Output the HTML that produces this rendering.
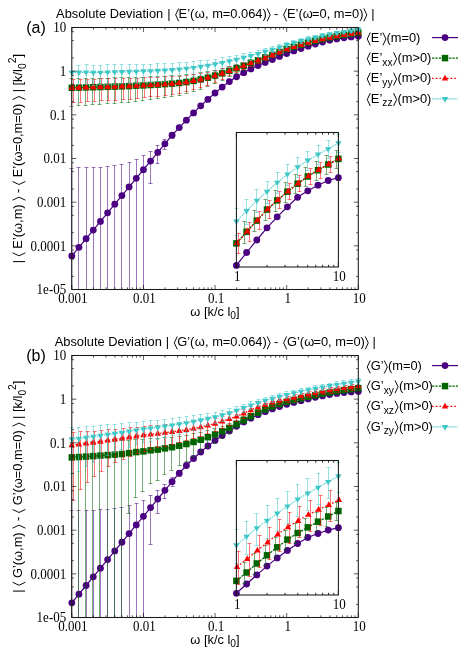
<!DOCTYPE html>
<html><head><meta charset="utf-8"><title>Absolute Deviation</title>
<style>html,body{margin:0;padding:0;background:#fff;}svg{display:block;will-change:transform;}text{font-family:"Liberation Sans",sans-serif;white-space:pre;}.se text{font-family:"Liberation Serif",serif;}</style></head>
<body>
<svg width="469" height="656" viewBox="0 0 469 656" font-family="Liberation Sans, sans-serif" fill="#000">
<defs><clipPath id="cm"><rect x="67.8" y="23.5" width="294.5" height="266.0"/></clipPath><clipPath id="ci"><rect x="232.4" y="132.5" width="109.99999999999997" height="138.5"/></clipPath></defs>
<rect width="469" height="656" fill="#fff"/>
<g><g clip-path="url(#cm)"><path d="M71.50 168.50V289.50M69.50 168.50H73.50M78.50 167.50V289.50M76.50 167.50H80.50M86.50 167.50V289.50M84.50 167.50H88.50M93.50 167.50V289.50M91.50 167.50H95.50M100.50 167.50V289.50M98.50 167.50H102.50M107.50 166.50V289.50M105.50 166.50H109.50M114.50 165.50V289.50M112.50 165.50H116.50M121.50 164.50V289.50M119.50 164.50H123.50M129.50 162.50V289.50M127.50 162.50H131.50M136.50 159.50V289.50M134.50 159.50H138.50M143.50 155.50V289.50M141.50 155.50H145.50M150.50 151.50V183.50M148.50 151.50H152.50M148.50 183.50H152.50M157.50 145.50V163.50M155.50 145.50H159.50M155.50 163.50H159.50M164.50 139.50V149.50M162.50 139.50H166.50M162.50 149.50H166.50M172.50 132.50V138.50M170.50 132.50H174.50M170.50 138.50H174.50M179.50 125.50V129.50M177.50 125.50H181.50M177.50 129.50H181.50M186.50 118.50V121.50M184.50 118.50H188.50M184.50 121.50H188.50M193.50 111.50V113.50M191.50 111.50H195.50M191.50 113.50H195.50M200.50 105.50V106.50M198.50 105.50H202.50M198.50 106.50H202.50M207.50 98.50V99.50M205.50 98.50H209.50M205.50 99.50H209.50M215.50 92.50V93.50M213.50 92.50H217.50M213.50 93.50H217.50M222.50 86.50V87.50M220.50 86.50H224.50M220.50 87.50H224.50M229.50 81.50V81.50M227.50 81.50H231.50M227.50 81.50H231.50M236.50 76.50V76.50M234.50 76.50H238.50M234.50 76.50H238.50M243.50 72.50V72.50M241.50 72.50H245.50M241.50 72.50H245.50M250.50 68.50V69.50M248.50 68.50H252.50M248.50 69.50H252.50M258.50 65.50V65.50M256.50 65.50H260.50M256.50 65.50H260.50M265.50 62.50V62.50M263.50 62.50H267.50M263.50 62.50H267.50M272.50 59.50V59.50M270.50 59.50H274.50M270.50 59.50H274.50M279.50 56.50V56.50M277.50 56.50H281.50M277.50 56.50H281.50M286.50 53.50V53.50M284.50 53.50H288.50M284.50 53.50H288.50M293.50 50.50V50.50M291.50 50.50H295.50M291.50 50.50H295.50M301.50 48.50V48.50M299.50 48.50H303.50M299.50 48.50H303.50M308.50 46.50V46.50M306.50 46.50H310.50M306.50 46.50H310.50M315.50 43.50V44.50M313.50 43.50H317.50M313.50 44.50H317.50M322.50 41.50V42.50M320.50 41.50H324.50M320.50 42.50H324.50M329.50 40.50V40.50M327.50 40.50H331.50M327.50 40.50H331.50M336.50 38.50V38.50M334.50 38.50H338.50M334.50 38.50H338.50M343.50 37.50V37.50M341.50 37.50H345.50M341.50 37.50H345.50M351.50 36.50V36.50M349.50 36.50H353.50M349.50 36.50H353.50M358.50 36.50V36.50M356.50 36.50H360.50M356.50 36.50H360.50" stroke="#4b0082" stroke-width="0.9" stroke-opacity="0.6" fill="none"/><polyline points="71.80,255.90 78.96,247.28 86.12,238.66 93.29,230.04 100.45,221.42 107.61,212.80 114.78,204.18 121.94,195.56 129.10,186.94 136.26,178.32 143.43,169.70 150.59,161.08 157.75,152.46 164.91,143.84 172.07,135.22 179.24,127.60 186.40,120.20 193.56,112.90 200.73,105.80 207.89,99.40 215.05,93.00 222.21,87.10 229.38,81.60 236.54,76.80 243.70,72.70 250.86,68.90 258.02,65.50 265.19,62.40 272.35,59.50 279.51,56.40 286.68,53.48 293.84,50.96 301.00,48.51 308.16,46.13 315.32,43.98 322.49,42.02 329.65,40.17 336.81,38.90 343.98,37.80 351.14,36.88 358.30,36.33" fill="none" stroke="#4b0082" stroke-width="1.2"/><circle cx="71.80" cy="255.90" r="3.4" fill="#4b0082"/><circle cx="78.96" cy="247.28" r="3.4" fill="#4b0082"/><circle cx="86.12" cy="238.66" r="3.4" fill="#4b0082"/><circle cx="93.29" cy="230.04" r="3.4" fill="#4b0082"/><circle cx="100.45" cy="221.42" r="3.4" fill="#4b0082"/><circle cx="107.61" cy="212.80" r="3.4" fill="#4b0082"/><circle cx="114.78" cy="204.18" r="3.4" fill="#4b0082"/><circle cx="121.94" cy="195.56" r="3.4" fill="#4b0082"/><circle cx="129.10" cy="186.94" r="3.4" fill="#4b0082"/><circle cx="136.26" cy="178.32" r="3.4" fill="#4b0082"/><circle cx="143.43" cy="169.70" r="3.4" fill="#4b0082"/><circle cx="150.59" cy="161.08" r="3.4" fill="#4b0082"/><circle cx="157.75" cy="152.46" r="3.4" fill="#4b0082"/><circle cx="164.91" cy="143.84" r="3.4" fill="#4b0082"/><circle cx="172.07" cy="135.22" r="3.4" fill="#4b0082"/><circle cx="179.24" cy="127.60" r="3.4" fill="#4b0082"/><circle cx="186.40" cy="120.20" r="3.4" fill="#4b0082"/><circle cx="193.56" cy="112.90" r="3.4" fill="#4b0082"/><circle cx="200.73" cy="105.80" r="3.4" fill="#4b0082"/><circle cx="207.89" cy="99.40" r="3.4" fill="#4b0082"/><circle cx="215.05" cy="93.00" r="3.4" fill="#4b0082"/><circle cx="222.21" cy="87.10" r="3.4" fill="#4b0082"/><circle cx="229.38" cy="81.60" r="3.4" fill="#4b0082"/><circle cx="236.54" cy="76.80" r="3.4" fill="#4b0082"/><circle cx="243.70" cy="72.70" r="3.4" fill="#4b0082"/><circle cx="250.86" cy="68.90" r="3.4" fill="#4b0082"/><circle cx="258.02" cy="65.50" r="3.4" fill="#4b0082"/><circle cx="265.19" cy="62.40" r="3.4" fill="#4b0082"/><circle cx="272.35" cy="59.50" r="3.4" fill="#4b0082"/><circle cx="279.51" cy="56.40" r="3.4" fill="#4b0082"/><circle cx="286.68" cy="53.48" r="3.4" fill="#4b0082"/><circle cx="293.84" cy="50.96" r="3.4" fill="#4b0082"/><circle cx="301.00" cy="48.51" r="3.4" fill="#4b0082"/><circle cx="308.16" cy="46.13" r="3.4" fill="#4b0082"/><circle cx="315.32" cy="43.98" r="3.4" fill="#4b0082"/><circle cx="322.49" cy="42.02" r="3.4" fill="#4b0082"/><circle cx="329.65" cy="40.17" r="3.4" fill="#4b0082"/><circle cx="336.81" cy="38.90" r="3.4" fill="#4b0082"/><circle cx="343.98" cy="37.80" r="3.4" fill="#4b0082"/><circle cx="351.14" cy="36.88" r="3.4" fill="#4b0082"/><circle cx="358.30" cy="36.33" r="3.4" fill="#4b0082"/><path d="M71.50 78.50V106.50M69.50 78.50H73.50M69.50 106.50H73.50M78.50 78.50V105.50M76.50 78.50H80.50M76.50 105.50H80.50M85.50 78.50V105.50M83.50 78.50H87.50M83.50 105.50H87.50M92.50 78.50V104.50M90.50 78.50H94.50M90.50 104.50H94.50M99.50 78.50V104.50M97.50 78.50H101.50M97.50 104.50H101.50M107.50 78.50V103.50M105.50 78.50H109.50M105.50 103.50H109.50M114.50 77.50V103.50M112.50 77.50H116.50M112.50 103.50H116.50M121.50 77.50V102.50M119.50 77.50H123.50M119.50 102.50H123.50M128.50 77.50V102.50M126.50 77.50H130.50M126.50 102.50H130.50M135.50 77.50V101.50M133.50 77.50H137.50M133.50 101.50H137.50M142.50 77.50V100.50M140.50 77.50H144.50M140.50 100.50H144.50M150.50 76.50V99.50M148.50 76.50H152.50M148.50 99.50H152.50M157.50 76.50V98.50M155.50 76.50H159.50M155.50 98.50H159.50M164.50 76.50V97.50M162.50 76.50H166.50M162.50 97.50H166.50M171.50 75.50V96.50M169.50 75.50H173.50M169.50 96.50H173.50M179.50 75.50V95.50M177.50 75.50H181.50M177.50 95.50H181.50M186.50 74.50V93.50M184.50 74.50H188.50M184.50 93.50H188.50M193.50 74.50V91.50M191.50 74.50H195.50M191.50 91.50H195.50M200.50 72.50V89.50M198.50 72.50H202.50M198.50 89.50H202.50M207.50 71.50V86.50M205.50 71.50H209.50M205.50 86.50H209.50M214.50 70.50V83.50M212.50 70.50H216.50M212.50 83.50H216.50M222.50 68.50V80.50M220.50 68.50H224.50M220.50 80.50H224.50M229.50 66.50V76.50M227.50 66.50H231.50M227.50 76.50H231.50M236.50 64.50V73.50M234.50 64.50H238.50M234.50 73.50H238.50M243.50 62.50V70.50M241.50 62.50H245.50M241.50 70.50H245.50M250.50 59.50V66.50M248.50 59.50H252.50M248.50 66.50H252.50M257.50 57.50V63.50M255.50 57.50H259.50M255.50 63.50H259.50M264.50 54.50V60.50M262.50 54.50H266.50M262.50 60.50H266.50M272.50 52.50V57.50M270.50 52.50H274.50M270.50 57.50H274.50M279.50 49.50V54.50M277.50 49.50H281.50M277.50 54.50H281.50M285.50 47.50V51.50M283.50 47.50H287.50M283.50 51.50H287.50M292.50 44.50V49.50M290.50 44.50H294.50M290.50 49.50H294.50M299.50 42.50V46.50M297.50 42.50H301.50M297.50 46.50H301.50M306.50 40.50V44.50M304.50 40.50H308.50M304.50 44.50H308.50M314.50 38.50V42.50M312.50 38.50H316.50M312.50 42.50H316.50M321.50 37.50V41.50M319.50 37.50H323.50M319.50 41.50H323.50M328.50 35.50V39.50M326.50 35.50H330.50M326.50 39.50H330.50M335.50 34.50V38.50M333.50 34.50H337.50M333.50 38.50H337.50M342.50 33.50V36.50M340.50 33.50H344.50M340.50 36.50H344.50M349.50 32.50V35.50M347.50 32.50H351.50M347.50 35.50H351.50M357.50 30.50V34.50M355.50 30.50H359.50M355.50 34.50H359.50" stroke="#006400" stroke-width="0.9" stroke-opacity="0.6" fill="none"/><polyline points="71.80,87.80 78.96,87.60 86.12,87.40 93.29,87.20 100.45,87.00 107.61,86.80 114.78,86.60 121.94,86.40 129.10,86.10 136.26,85.70 143.43,85.40 150.59,85.00 157.75,84.60 164.91,84.10 172.07,83.60 179.24,83.00 186.40,82.10 193.56,80.90 200.73,79.40 207.89,77.70 215.05,75.60 222.21,73.40 229.38,70.80 236.54,68.30 243.70,65.70 250.86,63.00 258.02,60.30 265.19,57.60 272.35,54.80 279.51,52.00 286.68,49.18 293.84,46.91 301.00,44.72 308.16,42.57 315.32,40.77 322.49,39.07 329.65,37.51 336.81,36.10 343.98,34.87 351.14,33.75 358.30,32.66" fill="none" stroke="#006400" stroke-width="1.3" stroke-dasharray="2.3 1.1"/><rect x="68.55" y="84.55" width="6.5" height="6.5" fill="#006400"/><rect x="75.71" y="84.35" width="6.5" height="6.5" fill="#006400"/><rect x="82.88" y="84.15" width="6.5" height="6.5" fill="#006400"/><rect x="90.04" y="83.95" width="6.5" height="6.5" fill="#006400"/><rect x="97.20" y="83.75" width="6.5" height="6.5" fill="#006400"/><rect x="104.36" y="83.55" width="6.5" height="6.5" fill="#006400"/><rect x="111.53" y="83.35" width="6.5" height="6.5" fill="#006400"/><rect x="118.69" y="83.15" width="6.5" height="6.5" fill="#006400"/><rect x="125.85" y="82.85" width="6.5" height="6.5" fill="#006400"/><rect x="133.01" y="82.45" width="6.5" height="6.5" fill="#006400"/><rect x="140.18" y="82.15" width="6.5" height="6.5" fill="#006400"/><rect x="147.34" y="81.75" width="6.5" height="6.5" fill="#006400"/><rect x="154.50" y="81.35" width="6.5" height="6.5" fill="#006400"/><rect x="161.66" y="80.85" width="6.5" height="6.5" fill="#006400"/><rect x="168.82" y="80.35" width="6.5" height="6.5" fill="#006400"/><rect x="175.99" y="79.75" width="6.5" height="6.5" fill="#006400"/><rect x="183.15" y="78.85" width="6.5" height="6.5" fill="#006400"/><rect x="190.31" y="77.65" width="6.5" height="6.5" fill="#006400"/><rect x="197.48" y="76.15" width="6.5" height="6.5" fill="#006400"/><rect x="204.64" y="74.45" width="6.5" height="6.5" fill="#006400"/><rect x="211.80" y="72.35" width="6.5" height="6.5" fill="#006400"/><rect x="218.96" y="70.15" width="6.5" height="6.5" fill="#006400"/><rect x="226.12" y="67.55" width="6.5" height="6.5" fill="#006400"/><rect x="233.29" y="65.05" width="6.5" height="6.5" fill="#006400"/><rect x="240.45" y="62.45" width="6.5" height="6.5" fill="#006400"/><rect x="247.61" y="59.75" width="6.5" height="6.5" fill="#006400"/><rect x="254.77" y="57.05" width="6.5" height="6.5" fill="#006400"/><rect x="261.94" y="54.35" width="6.5" height="6.5" fill="#006400"/><rect x="269.10" y="51.55" width="6.5" height="6.5" fill="#006400"/><rect x="276.26" y="48.75" width="6.5" height="6.5" fill="#006400"/><rect x="283.43" y="45.93" width="6.5" height="6.5" fill="#006400"/><rect x="290.59" y="43.66" width="6.5" height="6.5" fill="#006400"/><rect x="297.75" y="41.47" width="6.5" height="6.5" fill="#006400"/><rect x="304.91" y="39.32" width="6.5" height="6.5" fill="#006400"/><rect x="312.07" y="37.52" width="6.5" height="6.5" fill="#006400"/><rect x="319.24" y="35.82" width="6.5" height="6.5" fill="#006400"/><rect x="326.40" y="34.26" width="6.5" height="6.5" fill="#006400"/><rect x="333.56" y="32.85" width="6.5" height="6.5" fill="#006400"/><rect x="340.73" y="31.62" width="6.5" height="6.5" fill="#006400"/><rect x="347.89" y="30.50" width="6.5" height="6.5" fill="#006400"/><rect x="355.05" y="29.41" width="6.5" height="6.5" fill="#006400"/><path d="M73.50 79.50V102.50M71.50 79.50H75.50M71.50 102.50H75.50M80.50 79.50V102.50M78.50 79.50H82.50M78.50 102.50H82.50M87.50 79.50V101.50M85.50 79.50H89.50M85.50 101.50H89.50M94.50 79.50V101.50M92.50 79.50H96.50M92.50 101.50H96.50M101.50 78.50V100.50M99.50 78.50H103.50M99.50 100.50H103.50M108.50 78.50V100.50M106.50 78.50H110.50M106.50 100.50H110.50M115.50 78.50V100.50M113.50 78.50H117.50M113.50 100.50H117.50M123.50 78.50V99.50M121.50 78.50H125.50M121.50 99.50H125.50M130.50 78.50V99.50M128.50 78.50H132.50M128.50 99.50H132.50M137.50 78.50V98.50M135.50 78.50H139.50M135.50 98.50H139.50M144.50 77.50V97.50M142.50 77.50H146.50M142.50 97.50H146.50M150.50 77.50V96.50M148.50 77.50H152.50M148.50 96.50H152.50M157.50 77.50V96.50M155.50 77.50H159.50M155.50 96.50H159.50M165.50 76.50V95.50M163.50 76.50H167.50M163.50 95.50H167.50M172.50 76.50V94.50M170.50 76.50H174.50M170.50 94.50H174.50M179.50 76.50V93.50M177.50 76.50H181.50M177.50 93.50H181.50M186.50 75.50V91.50M184.50 75.50H188.50M184.50 91.50H188.50M193.50 74.50V89.50M191.50 74.50H195.50M191.50 89.50H195.50M200.50 73.50V87.50M198.50 73.50H202.50M198.50 87.50H202.50M207.50 72.50V85.50M205.50 72.50H209.50M205.50 85.50H209.50M215.50 70.50V82.50M213.50 70.50H217.50M213.50 82.50H217.50M222.50 68.50V79.50M220.50 68.50H224.50M220.50 79.50H224.50M229.50 66.50V75.50M227.50 66.50H231.50M227.50 75.50H231.50M236.50 64.50V72.50M234.50 64.50H238.50M234.50 72.50H238.50M243.50 62.50V69.50M241.50 62.50H245.50M241.50 69.50H245.50M250.50 60.50V66.50M248.50 60.50H252.50M248.50 66.50H252.50M258.50 57.50V63.50M256.50 57.50H260.50M256.50 63.50H260.50M265.50 55.50V60.50M263.50 55.50H267.50M263.50 60.50H267.50M272.50 52.50V57.50M270.50 52.50H274.50M270.50 57.50H274.50M279.50 49.50V54.50M277.50 49.50H281.50M277.50 54.50H281.50M288.50 47.50V51.50M286.50 47.50H290.50M286.50 51.50H290.50M295.50 45.50V48.50M293.50 45.50H297.50M293.50 48.50H297.50M302.50 42.50V46.50M300.50 42.50H304.50M300.50 46.50H304.50M309.50 40.50V44.50M307.50 40.50H311.50M307.50 44.50H311.50M316.50 39.50V42.50M314.50 39.50H318.50M314.50 42.50H318.50M323.50 37.50V40.50M321.50 37.50H325.50M321.50 40.50H325.50M331.50 35.50V39.50M329.50 35.50H333.50M329.50 39.50H333.50M338.50 34.50V37.50M336.50 34.50H340.50M336.50 37.50H340.50M345.50 33.50V36.50M343.50 33.50H347.50M343.50 36.50H347.50M352.50 32.50V35.50M350.50 32.50H354.50M350.50 35.50H354.50" stroke="#ff0000" stroke-width="0.9" stroke-opacity="0.6" fill="none"/><polyline points="71.80,87.71 78.96,87.51 86.12,87.31 93.29,87.11 100.45,86.91 107.61,86.71 114.78,86.51 121.94,86.31 129.10,86.01 136.26,85.61 143.43,85.31 150.59,84.91 157.75,84.51 164.91,84.01 172.07,83.51 179.24,82.91 186.40,82.01 193.56,80.81 200.73,79.31 207.89,77.61 215.05,75.51 222.21,73.31 229.38,70.71 236.54,68.21 243.70,65.61 250.86,62.91 258.02,60.21 265.19,57.51 272.35,54.71 279.51,51.91 286.68,49.08 293.84,46.82 301.00,44.63 308.16,42.48 315.32,40.68 322.49,38.98 329.65,37.41 336.81,36.01 343.98,34.77 351.14,33.66 358.30,32.57" fill="none" stroke="#ff0000" stroke-width="1.2" stroke-dasharray="1.7 2.0"/><path d="M71.80 84.01L75.00 89.91L68.60 89.91Z" fill="#ff0000"/><path d="M78.96 83.81L82.16 89.71L75.76 89.71Z" fill="#ff0000"/><path d="M86.12 83.61L89.33 89.51L82.92 89.51Z" fill="#ff0000"/><path d="M93.29 83.41L96.49 89.31L90.09 89.31Z" fill="#ff0000"/><path d="M100.45 83.21L103.65 89.11L97.25 89.11Z" fill="#ff0000"/><path d="M107.61 83.01L110.81 88.91L104.41 88.91Z" fill="#ff0000"/><path d="M114.78 82.81L117.98 88.71L111.58 88.71Z" fill="#ff0000"/><path d="M121.94 82.61L125.14 88.51L118.74 88.51Z" fill="#ff0000"/><path d="M129.10 82.31L132.30 88.21L125.90 88.21Z" fill="#ff0000"/><path d="M136.26 81.91L139.46 87.81L133.06 87.81Z" fill="#ff0000"/><path d="M143.43 81.61L146.62 87.51L140.23 87.51Z" fill="#ff0000"/><path d="M150.59 81.21L153.79 87.11L147.39 87.11Z" fill="#ff0000"/><path d="M157.75 80.81L160.95 86.71L154.55 86.71Z" fill="#ff0000"/><path d="M164.91 80.31L168.11 86.21L161.71 86.21Z" fill="#ff0000"/><path d="M172.07 79.81L175.27 85.71L168.88 85.71Z" fill="#ff0000"/><path d="M179.24 79.21L182.44 85.11L176.04 85.11Z" fill="#ff0000"/><path d="M186.40 78.31L189.60 84.21L183.20 84.21Z" fill="#ff0000"/><path d="M193.56 77.11L196.76 83.01L190.36 83.01Z" fill="#ff0000"/><path d="M200.73 75.61L203.93 81.51L197.53 81.51Z" fill="#ff0000"/><path d="M207.89 73.91L211.09 79.81L204.69 79.81Z" fill="#ff0000"/><path d="M215.05 71.81L218.25 77.71L211.85 77.71Z" fill="#ff0000"/><path d="M222.21 69.61L225.41 75.51L219.01 75.51Z" fill="#ff0000"/><path d="M229.38 67.01L232.57 72.91L226.18 72.91Z" fill="#ff0000"/><path d="M236.54 64.51L239.74 70.41L233.34 70.41Z" fill="#ff0000"/><path d="M243.70 61.91L246.90 67.81L240.50 67.81Z" fill="#ff0000"/><path d="M250.86 59.21L254.06 65.11L247.66 65.11Z" fill="#ff0000"/><path d="M258.02 56.51L261.22 62.41L254.82 62.41Z" fill="#ff0000"/><path d="M265.19 53.81L268.39 59.71L261.99 59.71Z" fill="#ff0000"/><path d="M272.35 51.01L275.55 56.91L269.15 56.91Z" fill="#ff0000"/><path d="M279.51 48.21L282.71 54.11L276.31 54.11Z" fill="#ff0000"/><path d="M286.68 45.38L289.88 51.28L283.48 51.28Z" fill="#ff0000"/><path d="M293.84 43.12L297.04 49.02L290.64 49.02Z" fill="#ff0000"/><path d="M301.00 40.93L304.20 46.83L297.80 46.83Z" fill="#ff0000"/><path d="M308.16 38.78L311.36 44.68L304.96 44.68Z" fill="#ff0000"/><path d="M315.32 36.98L318.52 42.88L312.12 42.88Z" fill="#ff0000"/><path d="M322.49 35.28L325.69 41.18L319.29 41.18Z" fill="#ff0000"/><path d="M329.65 33.71L332.85 39.61L326.45 39.61Z" fill="#ff0000"/><path d="M336.81 32.31L340.01 38.21L333.61 38.21Z" fill="#ff0000"/><path d="M343.98 31.07L347.18 36.97L340.78 36.97Z" fill="#ff0000"/><path d="M351.14 29.96L354.34 35.86L347.94 35.86Z" fill="#ff0000"/><path d="M358.30 28.87L361.50 34.77L355.10 34.77Z" fill="#ff0000"/><path d="M78.50 65.50V84.50M76.50 65.50H80.50M76.50 84.50H80.50M86.50 64.50V84.50M84.50 64.50H88.50M84.50 84.50H88.50M93.50 65.50V85.50M91.50 65.50H95.50M91.50 85.50H95.50M100.50 65.50V84.50M98.50 65.50H102.50M98.50 84.50H102.50M107.50 64.50V84.50M105.50 64.50H109.50M105.50 84.50H109.50M114.50 64.50V84.50M112.50 64.50H116.50M112.50 84.50H116.50M121.50 64.50V83.50M119.50 64.50H123.50M119.50 83.50H123.50M129.50 64.50V83.50M127.50 64.50H131.50M127.50 83.50H131.50M136.50 64.50V83.50M134.50 64.50H138.50M134.50 83.50H138.50M143.50 64.50V82.50M141.50 64.50H145.50M141.50 82.50H145.50M150.50 64.50V82.50M148.50 64.50H152.50M148.50 82.50H152.50M157.50 63.50V81.50M155.50 63.50H159.50M155.50 81.50H159.50M164.50 63.50V81.50M162.50 63.50H166.50M162.50 81.50H166.50M172.50 63.50V80.50M170.50 63.50H174.50M170.50 80.50H174.50M179.50 62.50V79.50M177.50 62.50H181.50M177.50 79.50H181.50M186.50 62.50V78.50M184.50 62.50H188.50M184.50 78.50H188.50M193.50 61.50V76.50M191.50 61.50H195.50M191.50 76.50H195.50M200.50 60.50V75.50M198.50 60.50H202.50M198.50 75.50H202.50M207.50 60.50V73.50M205.50 60.50H209.50M205.50 73.50H209.50M215.50 59.50V71.50M213.50 59.50H217.50M213.50 71.50H217.50M222.50 57.50V69.50M220.50 57.50H224.50M220.50 69.50H224.50M229.50 56.50V67.50M227.50 56.50H231.50M227.50 67.50H231.50M236.50 55.50V64.50M234.50 55.50H238.50M234.50 64.50H238.50M243.50 53.50V62.50M241.50 53.50H245.50M241.50 62.50H245.50M250.50 52.50V60.50M248.50 52.50H252.50M248.50 60.50H252.50M258.50 50.50V57.50M256.50 50.50H260.50M256.50 57.50H260.50M265.50 48.50V55.50M263.50 48.50H267.50M263.50 55.50H267.50M272.50 46.50V52.50M270.50 46.50H274.50M270.50 52.50H274.50M279.50 44.50V50.50M277.50 44.50H281.50M277.50 50.50H281.50M286.50 42.50V47.50M284.50 42.50H288.50M284.50 47.50H288.50M293.50 40.50V45.50M291.50 40.50H295.50M291.50 45.50H295.50M301.50 38.50V43.50M299.50 38.50H303.50M299.50 43.50H303.50M308.50 36.50V41.50M306.50 36.50H310.50M306.50 41.50H310.50M315.50 35.50V39.50M313.50 35.50H317.50M313.50 39.50H317.50M322.50 33.50V37.50M320.50 33.50H324.50M320.50 37.50H324.50M329.50 32.50V36.50M327.50 32.50H331.50M327.50 36.50H331.50M336.50 31.50V34.50M334.50 31.50H338.50M334.50 34.50H338.50M343.50 30.50V33.50M341.50 30.50H345.50M341.50 33.50H345.50M351.50 28.50V32.50M349.50 28.50H353.50M349.50 32.50H353.50M358.50 27.50V31.50M356.50 27.50H360.50M356.50 31.50H360.50" stroke="#40c8c8" stroke-width="0.9" stroke-opacity="0.6" fill="none"/><polyline points="71.80,72.50 78.96,72.40 86.12,72.30 93.29,72.70 100.45,72.50 107.61,72.30 114.78,72.10 121.94,71.90 129.10,71.70 136.26,71.50 143.43,71.20 150.59,71.00 157.75,70.70 164.91,70.40 172.07,69.90 179.24,69.30 186.40,68.60 193.56,67.80 200.73,66.70 207.89,65.50 215.05,64.20 222.21,62.80 229.38,61.20 236.54,59.50 243.70,57.70 250.86,55.80 258.02,53.78 265.19,51.66 272.35,49.54 279.51,47.32 286.68,44.86 293.84,42.82 301.00,40.81 308.16,39.03 315.32,37.29 322.49,35.67 329.65,34.24 336.81,32.95 343.98,31.78 351.14,30.73 358.30,29.57" fill="none" stroke="#40c8c8" stroke-width="1.1" stroke-dasharray="1.7 0.8" stroke-opacity="0.8"/><path d="M71.80 76.00L75.05 70.65L68.55 70.65Z" fill="#40c8c8"/><path d="M78.96 75.90L82.21 70.55L75.71 70.55Z" fill="#40c8c8"/><path d="M86.12 75.80L89.38 70.45L82.88 70.45Z" fill="#40c8c8"/><path d="M93.29 76.20L96.54 70.85L90.04 70.85Z" fill="#40c8c8"/><path d="M100.45 76.00L103.70 70.65L97.20 70.65Z" fill="#40c8c8"/><path d="M107.61 75.80L110.86 70.45L104.36 70.45Z" fill="#40c8c8"/><path d="M114.78 75.60L118.03 70.25L111.53 70.25Z" fill="#40c8c8"/><path d="M121.94 75.40L125.19 70.05L118.69 70.05Z" fill="#40c8c8"/><path d="M129.10 75.20L132.35 69.85L125.85 69.85Z" fill="#40c8c8"/><path d="M136.26 75.00L139.51 69.65L133.01 69.65Z" fill="#40c8c8"/><path d="M143.43 74.70L146.68 69.35L140.18 69.35Z" fill="#40c8c8"/><path d="M150.59 74.50L153.84 69.15L147.34 69.15Z" fill="#40c8c8"/><path d="M157.75 74.20L161.00 68.85L154.50 68.85Z" fill="#40c8c8"/><path d="M164.91 73.90L168.16 68.55L161.66 68.55Z" fill="#40c8c8"/><path d="M172.07 73.40L175.32 68.05L168.82 68.05Z" fill="#40c8c8"/><path d="M179.24 72.80L182.49 67.45L175.99 67.45Z" fill="#40c8c8"/><path d="M186.40 72.10L189.65 66.75L183.15 66.75Z" fill="#40c8c8"/><path d="M193.56 71.30L196.81 65.95L190.31 65.95Z" fill="#40c8c8"/><path d="M200.73 70.20L203.98 64.85L197.48 64.85Z" fill="#40c8c8"/><path d="M207.89 69.00L211.14 63.65L204.64 63.65Z" fill="#40c8c8"/><path d="M215.05 67.70L218.30 62.35L211.80 62.35Z" fill="#40c8c8"/><path d="M222.21 66.30L225.46 60.95L218.96 60.95Z" fill="#40c8c8"/><path d="M229.38 64.70L232.62 59.35L226.12 59.35Z" fill="#40c8c8"/><path d="M236.54 63.00L239.79 57.65L233.29 57.65Z" fill="#40c8c8"/><path d="M243.70 61.20L246.95 55.85L240.45 55.85Z" fill="#40c8c8"/><path d="M250.86 59.30L254.11 53.95L247.61 53.95Z" fill="#40c8c8"/><path d="M258.02 57.28L261.27 51.93L254.77 51.93Z" fill="#40c8c8"/><path d="M265.19 55.16L268.44 49.81L261.94 49.81Z" fill="#40c8c8"/><path d="M272.35 53.04L275.60 47.69L269.10 47.69Z" fill="#40c8c8"/><path d="M279.51 50.82L282.76 45.47L276.26 45.47Z" fill="#40c8c8"/><path d="M286.68 48.36L289.93 43.01L283.43 43.01Z" fill="#40c8c8"/><path d="M293.84 46.32L297.09 40.97L290.59 40.97Z" fill="#40c8c8"/><path d="M301.00 44.31L304.25 38.96L297.75 38.96Z" fill="#40c8c8"/><path d="M308.16 42.53L311.41 37.18L304.91 37.18Z" fill="#40c8c8"/><path d="M315.32 40.79L318.57 35.44L312.07 35.44Z" fill="#40c8c8"/><path d="M322.49 39.17L325.74 33.82L319.24 33.82Z" fill="#40c8c8"/><path d="M329.65 37.74L332.90 32.39L326.40 32.39Z" fill="#40c8c8"/><path d="M336.81 36.45L340.06 31.10L333.56 31.10Z" fill="#40c8c8"/><path d="M343.98 35.28L347.23 29.93L340.73 29.93Z" fill="#40c8c8"/><path d="M351.14 34.23L354.39 28.88L347.89 28.88Z" fill="#40c8c8"/><path d="M358.30 33.07L361.55 27.72L355.05 27.72Z" fill="#40c8c8"/></g><path d="M71.80 289.5v-4.5M71.80 27.5v4.5M93.36 289.5v-2.2M93.36 27.5v2.2M105.97 289.5v-2.2M105.97 27.5v2.2M114.92 289.5v-2.2M114.92 27.5v2.2M121.86 289.5v-2.2M121.86 27.5v2.2M127.54 289.5v-2.2M127.54 27.5v2.2M132.33 289.5v-2.2M132.33 27.5v2.2M136.48 289.5v-2.2M136.48 27.5v2.2M140.15 289.5v-2.2M140.15 27.5v2.2M143.43 289.5v-4.5M143.43 27.5v4.5M164.99 289.5v-2.2M164.99 27.5v2.2M177.60 289.5v-2.2M177.60 27.5v2.2M186.55 289.5v-2.2M186.55 27.5v2.2M193.49 289.5v-2.2M193.49 27.5v2.2M199.16 289.5v-2.2M199.16 27.5v2.2M203.96 289.5v-2.2M203.96 27.5v2.2M208.11 289.5v-2.2M208.11 27.5v2.2M211.77 289.5v-2.2M211.77 27.5v2.2M215.05 289.5v-4.5M215.05 27.5v4.5M236.61 289.5v-2.2M236.61 27.5v2.2M249.22 289.5v-2.2M249.22 27.5v2.2M258.17 289.5v-2.2M258.17 27.5v2.2M265.11 289.5v-2.2M265.11 27.5v2.2M270.79 289.5v-2.2M270.79 27.5v2.2M275.58 289.5v-2.2M275.58 27.5v2.2M279.73 289.5v-2.2M279.73 27.5v2.2M283.40 289.5v-2.2M283.40 27.5v2.2M286.68 289.5v-4.5M286.68 27.5v4.5M308.24 289.5v-2.2M308.24 27.5v2.2M320.85 289.5v-2.2M320.85 27.5v2.2M329.80 289.5v-2.2M329.80 27.5v2.2M336.74 289.5v-2.2M336.74 27.5v2.2M342.41 289.5v-2.2M342.41 27.5v2.2M347.21 289.5v-2.2M347.21 27.5v2.2M351.36 289.5v-2.2M351.36 27.5v2.2M355.02 289.5v-2.2M355.02 27.5v2.2M358.30 289.5v-4.5M358.30 27.5v4.5M71.8 27.50h4.5M358.3 27.50h-4.5M71.8 58.02h2.2M358.3 58.02h-2.2M71.8 40.64h2.2M358.3 40.64h-2.2M71.8 31.73h2.2M358.3 31.73h-2.2M71.8 71.17h4.5M358.3 71.17h-4.5M71.8 101.69h2.2M358.3 101.69h-2.2M71.8 84.31h2.2M358.3 84.31h-2.2M71.8 75.40h2.2M358.3 75.40h-2.2M71.8 114.83h4.5M358.3 114.83h-4.5M71.8 145.36h2.2M358.3 145.36h-2.2M71.8 127.98h2.2M358.3 127.98h-2.2M71.8 119.07h2.2M358.3 119.07h-2.2M71.8 158.50h4.5M358.3 158.50h-4.5M71.8 189.02h2.2M358.3 189.02h-2.2M71.8 171.64h2.2M358.3 171.64h-2.2M71.8 162.73h2.2M358.3 162.73h-2.2M71.8 202.17h4.5M358.3 202.17h-4.5M71.8 232.69h2.2M358.3 232.69h-2.2M71.8 215.31h2.2M358.3 215.31h-2.2M71.8 206.40h2.2M358.3 206.40h-2.2M71.8 245.83h4.5M358.3 245.83h-4.5M71.8 276.36h2.2M358.3 276.36h-2.2M71.8 258.98h2.2M358.3 258.98h-2.2M71.8 250.07h2.2M358.3 250.07h-2.2M71.8 289.50h4.5M358.3 289.50h-4.5" stroke="#000" stroke-width="0.65" fill="none"/><rect x="71.8" y="27.5" width="286.5" height="262.0" fill="none" stroke="#1a1a1a" stroke-width="1.05"/><rect x="236.4" y="132.5" width="101.99999999999997" height="134.5" fill="#fff" stroke="none"/><g clip-path="url(#ci)"><polyline points="236.40,265.40 246.60,252.50 256.80,240.00 267.00,227.80 277.20,216.80 287.40,206.80 297.60,197.30 307.80,190.80 318.00,185.20 328.20,180.50 338.40,177.70" fill="none" stroke="#4b0082" stroke-width="1.2"/><circle cx="236.40" cy="265.40" r="3.4" fill="#4b0082"/><circle cx="246.60" cy="252.50" r="3.4" fill="#4b0082"/><circle cx="256.80" cy="240.00" r="3.4" fill="#4b0082"/><circle cx="267.00" cy="227.80" r="3.4" fill="#4b0082"/><circle cx="277.20" cy="216.80" r="3.4" fill="#4b0082"/><circle cx="287.40" cy="206.80" r="3.4" fill="#4b0082"/><circle cx="297.60" cy="197.30" r="3.4" fill="#4b0082"/><circle cx="307.80" cy="190.80" r="3.4" fill="#4b0082"/><circle cx="318.00" cy="185.20" r="3.4" fill="#4b0082"/><circle cx="328.20" cy="180.50" r="3.4" fill="#4b0082"/><circle cx="338.40" cy="177.70" r="3.4" fill="#4b0082"/><path d="M244.50 221.50V243.50M242.50 221.50H246.50M242.50 243.50H246.50M254.50 210.50V231.50M252.50 210.50H256.50M252.50 231.50H256.50M265.50 199.50V220.50M263.50 199.50H267.50M263.50 220.50H267.50M275.50 190.50V211.50M273.50 190.50H277.50M273.50 211.50H277.50M285.50 182.50V202.50M283.50 182.50H287.50M283.50 202.50H287.50M295.50 174.50V193.50M293.50 174.50H297.50M293.50 193.50H297.50M305.50 167.50V186.50M303.50 167.50H307.50M303.50 186.50H307.50M316.50 161.50V180.50M314.50 161.50H318.50M314.50 180.50H318.50M326.50 155.50V174.50M324.50 155.50H328.50M324.50 174.50H328.50M336.50 150.50V168.50M334.50 150.50H338.50M334.50 168.50H338.50" stroke="#006400" stroke-width="0.9" stroke-opacity="0.6" fill="none"/><polyline points="236.40,243.40 246.60,231.80 256.80,220.60 267.00,209.60 277.20,200.40 287.40,191.70 297.60,183.70 307.80,176.50 318.00,170.20 328.20,164.50 338.40,158.90" fill="none" stroke="#006400" stroke-width="1.3" stroke-dasharray="2.3 1.1"/><rect x="233.15" y="240.15" width="6.5" height="6.5" fill="#006400"/><rect x="243.35" y="228.55" width="6.5" height="6.5" fill="#006400"/><rect x="253.55" y="217.35" width="6.5" height="6.5" fill="#006400"/><rect x="263.75" y="206.35" width="6.5" height="6.5" fill="#006400"/><rect x="273.95" y="197.15" width="6.5" height="6.5" fill="#006400"/><rect x="284.15" y="188.45" width="6.5" height="6.5" fill="#006400"/><rect x="294.35" y="180.45" width="6.5" height="6.5" fill="#006400"/><rect x="304.55" y="173.25" width="6.5" height="6.5" fill="#006400"/><rect x="314.75" y="166.95" width="6.5" height="6.5" fill="#006400"/><rect x="324.95" y="161.25" width="6.5" height="6.5" fill="#006400"/><rect x="335.15" y="155.65" width="6.5" height="6.5" fill="#006400"/><path d="M238.50 233.50V253.50M236.50 233.50H240.50M236.50 253.50H240.50M249.50 222.50V241.50M247.50 222.50H251.50M247.50 241.50H251.50M259.50 211.50V229.50M257.50 211.50H261.50M257.50 229.50H261.50M269.50 200.50V218.50M267.50 200.50H271.50M267.50 218.50H271.50M279.50 191.50V208.50M277.50 191.50H281.50M277.50 208.50H281.50M289.50 183.50V199.50M287.50 183.50H291.50M287.50 199.50H291.50M299.50 175.50V191.50M297.50 175.50H301.50M297.50 191.50H301.50M310.50 168.50V184.50M308.50 168.50H312.50M308.50 184.50H312.50M320.50 162.50V178.50M318.50 162.50H322.50M318.50 178.50H322.50M330.50 156.50V172.50M328.50 156.50H332.50M328.50 172.50H332.50" stroke="#ff0000" stroke-width="0.9" stroke-opacity="0.6" fill="none"/><polyline points="237.00,242.92 247.20,231.32 257.40,220.12 267.60,209.12 277.80,199.92 288.00,191.22 298.20,183.22 308.40,176.02 318.60,169.72 328.80,164.02 339.00,158.42" fill="none" stroke="#ff0000" stroke-width="1.2" stroke-dasharray="1.7 2.0"/><path d="M237.00 239.22L240.20 245.12L233.80 245.12Z" fill="#ff0000"/><path d="M247.20 227.62L250.40 233.52L244.00 233.52Z" fill="#ff0000"/><path d="M257.40 216.42L260.60 222.32L254.20 222.32Z" fill="#ff0000"/><path d="M267.60 205.42L270.80 211.32L264.40 211.32Z" fill="#ff0000"/><path d="M277.80 196.22L281.00 202.12L274.60 202.12Z" fill="#ff0000"/><path d="M288.00 187.52L291.20 193.42L284.80 193.42Z" fill="#ff0000"/><path d="M298.20 179.52L301.40 185.42L295.00 185.42Z" fill="#ff0000"/><path d="M308.40 172.32L311.60 178.22L305.20 178.22Z" fill="#ff0000"/><path d="M318.60 166.02L321.80 171.92L315.40 171.92Z" fill="#ff0000"/><path d="M328.80 160.32L332.00 166.22L325.60 166.22Z" fill="#ff0000"/><path d="M339.00 154.72L342.20 160.62L335.80 160.62Z" fill="#ff0000"/><path d="M236.50 208.50V235.50M234.50 208.50H238.50M234.50 235.50H238.50M246.50 199.50V224.50M244.50 199.50H248.50M244.50 224.50H248.50M256.50 189.50V212.50M254.50 189.50H258.50M254.50 212.50H258.50M267.50 181.50V203.50M265.50 181.50H269.50M265.50 203.50H269.50M277.50 172.50V193.50M275.50 172.50H279.50M275.50 193.50H279.50M287.50 164.50V185.50M285.50 164.50H289.50M285.50 185.50H289.50M297.50 157.50V177.50M295.50 157.50H299.50M295.50 177.50H299.50M307.50 151.50V170.50M305.50 151.50H309.50M305.50 170.50H309.50M318.50 145.50V164.50M316.50 145.50H320.50M316.50 164.50H320.50M328.50 140.50V158.50M326.50 140.50H330.50M326.50 158.50H330.50M338.50 134.50V152.50M336.50 134.50H340.50M336.50 152.50H340.50" stroke="#40c8c8" stroke-width="0.9" stroke-opacity="0.6" fill="none"/><polyline points="236.40,221.30 246.60,210.90 256.80,200.60 267.00,191.50 277.20,182.60 287.40,174.30 297.60,167.00 307.80,160.40 318.00,154.40 328.20,149.00 338.40,143.10" fill="none" stroke="#40c8c8" stroke-width="1.1" stroke-dasharray="1.7 0.8" stroke-opacity="0.8"/><path d="M236.40 224.80L239.65 219.45L233.15 219.45Z" fill="#40c8c8"/><path d="M246.60 214.40L249.85 209.05L243.35 209.05Z" fill="#40c8c8"/><path d="M256.80 204.10L260.05 198.75L253.55 198.75Z" fill="#40c8c8"/><path d="M267.00 195.00L270.25 189.65L263.75 189.65Z" fill="#40c8c8"/><path d="M277.20 186.10L280.45 180.75L273.95 180.75Z" fill="#40c8c8"/><path d="M287.40 177.80L290.65 172.45L284.15 172.45Z" fill="#40c8c8"/><path d="M297.60 170.50L300.85 165.15L294.35 165.15Z" fill="#40c8c8"/><path d="M307.80 163.90L311.05 158.55L304.55 158.55Z" fill="#40c8c8"/><path d="M318.00 157.90L321.25 152.55L314.75 152.55Z" fill="#40c8c8"/><path d="M328.20 152.50L331.45 147.15L324.95 147.15Z" fill="#40c8c8"/><path d="M338.40 146.60L341.65 141.25L335.15 141.25Z" fill="#40c8c8"/></g><path d="M236.40 267.0v-4.5M236.40 132.5v4.5M267.11 267.0v-2.2M267.11 132.5v2.2M285.07 267.0v-2.2M285.07 132.5v2.2M297.81 267.0v-2.2M297.81 132.5v2.2M307.69 267.0v-2.2M307.69 132.5v2.2M315.77 267.0v-2.2M315.77 132.5v2.2M322.60 267.0v-2.2M322.60 132.5v2.2M328.52 267.0v-2.2M328.52 132.5v2.2M333.73 267.0v-2.2M333.73 132.5v2.2M338.40 267.0v-4.5M338.40 132.5v4.5" stroke="#000" stroke-width="0.85" fill="none"/><rect x="236.4" y="132.5" width="101.99999999999997" height="134.5" fill="none" stroke="#1a1a1a" stroke-width="1.05"/><g class="se" font-size="13"><text transform="translate(72.80 303.20) scale(1 1.08)" text-anchor="middle">0.001</text><text transform="translate(144.43 303.20) scale(1 1.08)" text-anchor="middle">0.01</text><text transform="translate(216.05 303.20) scale(1 1.08)" text-anchor="middle">0.1</text><text transform="translate(287.68 303.20) scale(1 1.08)" text-anchor="middle">1</text><text transform="translate(359.30 303.20) scale(1 1.08)" text-anchor="middle">10</text><text transform="translate(66.20 32.30) scale(1 1.08)" text-anchor="end">10</text><text transform="translate(66.20 75.97) scale(1 1.08)" text-anchor="end">1</text><text transform="translate(66.20 119.63) scale(1 1.08)" text-anchor="end">0.1</text><text transform="translate(66.20 163.30) scale(1 1.08)" text-anchor="end">0.01</text><text transform="translate(66.20 206.97) scale(1 1.08)" text-anchor="end">0.001</text><text transform="translate(66.20 250.63) scale(1 1.08)" text-anchor="end">0.0001</text><text transform="translate(66.20 294.30) scale(1 1.08)" text-anchor="end">1e-05</text><text transform="translate(237.30 281.20) scale(1 1.08)" text-anchor="middle">1</text><text transform="translate(339.30 281.20) scale(1 1.08)" text-anchor="middle">10</text></g><g font-family="Liberation Sans, sans-serif"><text x="26.2" y="33.1" font-size="16">(a)</text><text x="56.10" y="17.90" font-size="12.85">Absolute Deviation </text><text x="167.22" y="17.90" font-size="12.85">| </text><path d="M178.69 8.46L175.67 14.88L178.69 21.31" fill="none" stroke="#000" stroke-width="0.95" stroke-linejoin="miter"/><text x="178.57" y="17.90" font-size="12.85">E’(</text><text x="194.78" y="17.90" font-size="12.85">ω</text><text x="205.01" y="17.90" font-size="12.85">, m=0.064)</text><path d="M267.14 8.46L270.16 14.88L267.14 21.31" fill="none" stroke="#000" stroke-width="0.95" stroke-linejoin="miter"/><text x="270.53" y="17.90" font-size="12.85"> - </text><path d="M286.62 8.46L283.60 14.88L286.62 21.31" fill="none" stroke="#000" stroke-width="0.95" stroke-linejoin="miter"/><text x="286.99" y="17.90" font-size="12.85">E’(</text><text x="302.80" y="17.90" font-size="12.85">ω</text><text x="312.03" y="17.90" font-size="12.85">=0, m=0)</text><path d="M363.80 8.46L366.82 14.88L363.80 21.31" fill="none" stroke="#000" stroke-width="0.95" stroke-linejoin="miter"/><text x="367.60" y="17.90" font-size="12.85"> |</text><text x="190.35" y="315.50" font-size="12.85">ω [k/c l</text><text x="230.37" y="319.23" font-size="10.28">0</text><text x="236.08" y="315.50" font-size="12.85">]</text><g transform="translate(22.0 158.7) rotate(-90)"><text x="-104.68" y="0.00" font-size="12.85">| </text><path d="M-94.11 -9.44L-97.13 -3.02L-94.11 3.41" fill="none" stroke="#000" stroke-width="0.95" stroke-linejoin="miter"/><text x="-93.53" y="0.00" font-size="12.85"> E’(ω,m) </text><path d="M-41.46 -9.44L-38.44 -3.02L-41.46 3.41" fill="none" stroke="#000" stroke-width="0.95" stroke-linejoin="miter"/><text x="-37.86" y="0.00" font-size="12.85"> - </text><path d="M-22.78 -9.44L-25.80 -3.02L-22.78 3.41" fill="none" stroke="#000" stroke-width="0.95" stroke-linejoin="miter"/><text x="-22.20" y="0.00" font-size="12.85"> E’(ω=0,m=0) </text><path d="M59.18 -9.44L62.20 -3.02L59.18 3.41" fill="none" stroke="#000" stroke-width="0.95" stroke-linejoin="miter"/><text x="62.78" y="0.00" font-size="12.85"> | [k/l</text><text x="89.68" y="3.73" font-size="10.28">0</text><text x="95.39" y="-5.91" font-size="10.28">2</text><text x="101.11" y="0.00" font-size="12.85">]</text></g><path d="M370.26 32.56L367.24 38.98L370.26 45.41" fill="none" stroke="#000" stroke-width="0.95" stroke-linejoin="miter"/><text x="370.84" y="42.00" font-size="12.85">E’</text><path d="M382.91 32.56L385.93 38.98L382.91 45.41" fill="none" stroke="#000" stroke-width="0.95" stroke-linejoin="miter"/><text x="386.51" y="42.00" font-size="12.85">(m=0)</text><path d="M370.26 52.36L367.24 58.78L370.26 65.21" fill="none" stroke="#000" stroke-width="0.95" stroke-linejoin="miter"/><text x="370.84" y="61.80" font-size="12.85">E’</text><text x="382.27" y="65.53" font-size="10.28">xx</text><path d="M393.59 52.36L396.61 58.78L393.59 65.21" fill="none" stroke="#000" stroke-width="0.95" stroke-linejoin="miter"/><text x="397.49" y="61.80" font-size="12.85">(m&gt;0)</text><path d="M370.26 72.66L367.24 79.08L370.26 85.51" fill="none" stroke="#000" stroke-width="0.95" stroke-linejoin="miter"/><text x="370.84" y="82.10" font-size="12.85">E’</text><text x="382.27" y="85.83" font-size="10.28">yy</text><path d="M393.59 72.66L396.61 79.08L393.59 85.51" fill="none" stroke="#000" stroke-width="0.95" stroke-linejoin="miter"/><text x="397.49" y="82.10" font-size="12.85">(m&gt;0)</text><path d="M370.26 93.16L367.24 99.58L370.26 106.01" fill="none" stroke="#000" stroke-width="0.95" stroke-linejoin="miter"/><text x="370.84" y="102.60" font-size="12.85">E’</text><text x="382.27" y="106.33" font-size="10.28">zz</text><path d="M393.59 93.16L396.61 99.58L393.59 106.01" fill="none" stroke="#000" stroke-width="0.95" stroke-linejoin="miter"/><text x="397.49" y="102.60" font-size="12.85">(m&gt;0)</text></g><path d="M432 37.6H458" stroke="#4b0082" stroke-width="1.2" fill="none"/><circle cx="445.00" cy="37.60" r="3.4" fill="#4b0082"/><path d="M432 58.1H458" stroke="#006400" stroke-width="1.3" stroke-dasharray="2.3 1.1" fill="none"/><rect x="441.75" y="54.85" width="6.5" height="6.5" fill="#006400"/><path d="M432 78.4H458" stroke="#ff0000" stroke-width="1.2" stroke-dasharray="1.7 2.0" fill="none"/><path d="M445.00 74.70L448.20 80.60L441.80 80.60Z" fill="#ff0000"/><path d="M432 98.9H458" stroke="#40c8c8" stroke-width="1.1" stroke-dasharray="1.7 0.8" stroke-opacity="0.8" fill="none"/><path d="M445.00 102.40L448.25 97.05L441.75 97.05Z" fill="#40c8c8"/></g>
<g transform="translate(0 328)"><g clip-path="url(#cm)"><path d="M71.50 182.50V289.50M69.50 182.50H73.50M78.50 182.50V289.50M76.50 182.50H80.50M86.50 182.50V289.50M84.50 182.50H88.50M93.50 182.50V289.50M91.50 182.50H95.50M100.50 181.50V289.50M98.50 181.50H102.50M107.50 181.50V289.50M105.50 181.50H109.50M114.50 180.50V289.50M112.50 180.50H116.50M121.50 179.50V289.50M119.50 179.50H123.50M129.50 177.50V289.50M127.50 177.50H131.50M136.50 175.50V289.50M134.50 175.50H138.50M143.50 172.50V289.50M141.50 172.50H145.50M150.50 167.50V216.50M148.50 167.50H152.50M148.50 216.50H152.50M157.50 162.50V185.50M155.50 162.50H159.50M155.50 185.50H159.50M164.50 156.50V170.50M162.50 156.50H166.50M162.50 170.50H166.50M172.50 149.50V158.50M170.50 149.50H174.50M170.50 158.50H174.50M179.50 142.50V148.50M177.50 142.50H181.50M177.50 148.50H181.50M186.50 135.50V139.50M184.50 135.50H188.50M184.50 139.50H188.50M193.50 129.50V131.50M191.50 129.50H195.50M191.50 131.50H195.50M200.50 123.50V124.50M198.50 123.50H202.50M198.50 124.50H202.50M207.50 117.50V118.50M205.50 117.50H209.50M205.50 118.50H209.50M215.50 111.50V112.50M213.50 111.50H217.50M213.50 112.50H217.50M222.50 107.50V107.50M220.50 107.50H224.50M220.50 107.50H224.50M229.50 102.50V103.50M227.50 102.50H231.50M227.50 103.50H231.50M236.50 98.50V98.50M234.50 98.50H238.50M234.50 98.50H238.50M243.50 93.50V94.50M241.50 93.50H245.50M241.50 94.50H245.50M250.50 90.50V90.50M248.50 90.50H252.50M248.50 90.50H252.50M258.50 86.50V86.50M256.50 86.50H260.50M256.50 86.50H260.50M265.50 83.50V83.50M263.50 83.50H267.50M263.50 83.50H267.50M272.50 80.50V80.50M270.50 80.50H274.50M270.50 80.50H274.50M279.50 78.50V78.50M277.50 78.50H281.50M277.50 78.50H281.50M286.50 76.50V76.50M284.50 76.50H288.50M284.50 76.50H288.50M293.50 74.50V74.50M291.50 74.50H295.50M291.50 74.50H295.50M301.50 72.50V72.50M299.50 72.50H303.50M299.50 72.50H303.50M308.50 70.50V71.50M306.50 70.50H310.50M306.50 71.50H310.50M315.50 69.50V69.50M313.50 69.50H317.50M313.50 69.50H317.50M322.50 67.50V67.50M320.50 67.50H324.50M320.50 67.50H324.50M329.50 66.50V66.50M327.50 66.50H331.50M327.50 66.50H331.50M336.50 65.50V65.50M334.50 65.50H338.50M334.50 65.50H338.50M343.50 64.50V64.50M341.50 64.50H345.50M341.50 64.50H345.50M351.50 63.50V63.50M349.50 63.50H353.50M349.50 63.50H353.50M358.50 63.50V63.50M356.50 63.50H360.50M356.50 63.50H360.50" stroke="#4b0082" stroke-width="0.9" stroke-opacity="0.6" fill="none"/><polyline points="71.80,274.80 78.96,266.15 86.12,257.50 93.29,248.85 100.45,240.20 107.61,231.55 114.78,222.90 121.94,214.25 129.10,205.60 136.26,196.95 143.43,188.30 150.59,179.65 157.75,171.00 164.91,162.35 172.07,153.70 179.24,145.20 186.40,137.50 193.56,130.50 200.73,124.00 207.89,118.00 215.05,112.40 222.21,107.60 229.38,103.00 236.54,98.30 243.70,93.90 250.86,90.20 258.02,86.70 265.19,83.70 272.35,80.90 279.51,78.50 286.68,76.29 293.84,74.47 301.00,72.69 308.16,70.97 315.32,69.37 322.49,67.90 329.65,66.56 336.81,65.38 343.98,64.60 351.14,63.94 358.30,63.47" fill="none" stroke="#4b0082" stroke-width="1.2"/><circle cx="71.80" cy="274.80" r="3.4" fill="#4b0082"/><circle cx="78.96" cy="266.15" r="3.4" fill="#4b0082"/><circle cx="86.12" cy="257.50" r="3.4" fill="#4b0082"/><circle cx="93.29" cy="248.85" r="3.4" fill="#4b0082"/><circle cx="100.45" cy="240.20" r="3.4" fill="#4b0082"/><circle cx="107.61" cy="231.55" r="3.4" fill="#4b0082"/><circle cx="114.78" cy="222.90" r="3.4" fill="#4b0082"/><circle cx="121.94" cy="214.25" r="3.4" fill="#4b0082"/><circle cx="129.10" cy="205.60" r="3.4" fill="#4b0082"/><circle cx="136.26" cy="196.95" r="3.4" fill="#4b0082"/><circle cx="143.43" cy="188.30" r="3.4" fill="#4b0082"/><circle cx="150.59" cy="179.65" r="3.4" fill="#4b0082"/><circle cx="157.75" cy="171.00" r="3.4" fill="#4b0082"/><circle cx="164.91" cy="162.35" r="3.4" fill="#4b0082"/><circle cx="172.07" cy="153.70" r="3.4" fill="#4b0082"/><circle cx="179.24" cy="145.20" r="3.4" fill="#4b0082"/><circle cx="186.40" cy="137.50" r="3.4" fill="#4b0082"/><circle cx="193.56" cy="130.50" r="3.4" fill="#4b0082"/><circle cx="200.73" cy="124.00" r="3.4" fill="#4b0082"/><circle cx="207.89" cy="118.00" r="3.4" fill="#4b0082"/><circle cx="215.05" cy="112.40" r="3.4" fill="#4b0082"/><circle cx="222.21" cy="107.60" r="3.4" fill="#4b0082"/><circle cx="229.38" cy="103.00" r="3.4" fill="#4b0082"/><circle cx="236.54" cy="98.30" r="3.4" fill="#4b0082"/><circle cx="243.70" cy="93.90" r="3.4" fill="#4b0082"/><circle cx="250.86" cy="90.20" r="3.4" fill="#4b0082"/><circle cx="258.02" cy="86.70" r="3.4" fill="#4b0082"/><circle cx="265.19" cy="83.70" r="3.4" fill="#4b0082"/><circle cx="272.35" cy="80.90" r="3.4" fill="#4b0082"/><circle cx="279.51" cy="78.50" r="3.4" fill="#4b0082"/><circle cx="286.68" cy="76.29" r="3.4" fill="#4b0082"/><circle cx="293.84" cy="74.47" r="3.4" fill="#4b0082"/><circle cx="301.00" cy="72.69" r="3.4" fill="#4b0082"/><circle cx="308.16" cy="70.97" r="3.4" fill="#4b0082"/><circle cx="315.32" cy="69.37" r="3.4" fill="#4b0082"/><circle cx="322.49" cy="67.90" r="3.4" fill="#4b0082"/><circle cx="329.65" cy="66.56" r="3.4" fill="#4b0082"/><circle cx="336.81" cy="65.38" r="3.4" fill="#4b0082"/><circle cx="343.98" cy="64.60" r="3.4" fill="#4b0082"/><circle cx="351.14" cy="63.94" r="3.4" fill="#4b0082"/><circle cx="358.30" cy="63.47" r="3.4" fill="#4b0082"/><path d="M71.50 114.50V289.50M69.50 114.50H73.50M78.50 114.50V289.50M76.50 114.50H80.50M85.50 114.50V289.50M83.50 114.50H87.50M92.50 113.50V289.50M90.50 113.50H94.50M99.50 113.50V289.50M97.50 113.50H101.50M107.50 113.50V289.50M105.50 113.50H109.50M114.50 113.50V289.50M112.50 113.50H116.50M121.50 112.50V289.50M119.50 112.50H123.50M128.50 112.50V185.50M126.50 112.50H130.50M126.50 185.50H130.50M135.50 111.50V169.50M133.50 111.50H137.50M133.50 169.50H137.50M142.50 111.50V163.50M140.50 111.50H144.50M140.50 163.50H144.50M150.50 110.50V155.50M148.50 110.50H152.50M148.50 155.50H152.50M157.50 110.50V152.50M155.50 110.50H159.50M155.50 152.50H159.50M164.50 109.50V146.50M162.50 109.50H166.50M162.50 146.50H166.50M171.50 109.50V142.50M169.50 109.50H173.50M169.50 142.50H173.50M179.50 108.50V137.50M177.50 108.50H181.50M177.50 137.50H181.50M186.50 107.50V133.50M184.50 107.50H188.50M184.50 133.50H188.50M193.50 105.50V128.50M191.50 105.50H195.50M191.50 128.50H195.50M200.50 104.50V124.50M198.50 104.50H202.50M198.50 124.50H202.50M207.50 102.50V119.50M205.50 102.50H209.50M205.50 119.50H209.50M214.50 100.50V115.50M212.50 100.50H216.50M212.50 115.50H216.50M222.50 98.50V110.50M220.50 98.50H224.50M220.50 110.50H224.50M229.50 95.50V105.50M227.50 95.50H231.50M227.50 105.50H231.50M236.50 92.50V100.50M234.50 92.50H238.50M234.50 100.50H238.50M243.50 88.50V95.50M241.50 88.50H245.50M241.50 95.50H245.50M250.50 85.50V91.50M248.50 85.50H252.50M248.50 91.50H252.50M257.50 82.50V87.50M255.50 82.50H259.50M255.50 87.50H259.50M264.50 79.50V84.50M262.50 79.50H266.50M262.50 84.50H266.50M272.50 76.50V81.50M270.50 76.50H274.50M270.50 81.50H274.50M279.50 74.50V78.50M277.50 74.50H281.50M277.50 78.50H281.50M285.50 71.50V76.50M283.50 71.50H287.50M283.50 76.50H287.50M292.50 70.50V74.50M290.50 70.50H294.50M290.50 74.50H294.50M299.50 68.50V72.50M297.50 68.50H301.50M297.50 72.50H301.50M306.50 67.50V70.50M304.50 67.50H308.50M304.50 70.50H308.50M314.50 65.50V69.50M312.50 65.50H316.50M312.50 69.50H316.50M321.50 63.50V67.50M319.50 63.50H323.50M319.50 67.50H323.50M328.50 62.50V66.50M326.50 62.50H330.50M326.50 66.50H330.50M335.50 61.50V65.50M333.50 61.50H337.50M333.50 65.50H337.50M342.50 60.50V64.50M340.50 60.50H344.50M340.50 64.50H344.50M349.50 59.50V63.50M347.50 59.50H351.50M347.50 63.50H351.50M357.50 58.50V62.50M355.50 58.50H359.50M355.50 62.50H359.50" stroke="#006400" stroke-width="0.9" stroke-opacity="0.6" fill="none"/><polyline points="71.80,129.40 78.96,129.00 86.12,128.60 93.29,128.10 100.45,127.60 107.61,127.10 114.78,126.60 121.94,126.10 129.10,125.10 136.26,124.10 143.43,123.40 150.59,122.30 157.75,121.60 164.91,120.40 172.07,119.20 179.24,117.70 186.40,116.00 193.56,114.00 200.73,111.80 207.89,109.20 215.05,106.50 222.21,103.30 229.38,99.90 236.54,96.00 243.70,92.00 250.86,88.20 258.02,84.60 265.19,81.40 272.35,78.60 279.51,76.10 286.68,73.87 293.84,72.22 301.00,70.47 308.16,68.86 315.32,67.30 322.49,65.79 329.65,64.50 336.81,63.41 343.98,62.29 351.14,61.28 358.30,60.20" fill="none" stroke="#006400" stroke-width="1.3" stroke-dasharray="2.3 1.1"/><rect x="68.55" y="126.15" width="6.5" height="6.5" fill="#006400"/><rect x="75.71" y="125.75" width="6.5" height="6.5" fill="#006400"/><rect x="82.88" y="125.35" width="6.5" height="6.5" fill="#006400"/><rect x="90.04" y="124.85" width="6.5" height="6.5" fill="#006400"/><rect x="97.20" y="124.35" width="6.5" height="6.5" fill="#006400"/><rect x="104.36" y="123.85" width="6.5" height="6.5" fill="#006400"/><rect x="111.53" y="123.35" width="6.5" height="6.5" fill="#006400"/><rect x="118.69" y="122.85" width="6.5" height="6.5" fill="#006400"/><rect x="125.85" y="121.85" width="6.5" height="6.5" fill="#006400"/><rect x="133.01" y="120.85" width="6.5" height="6.5" fill="#006400"/><rect x="140.18" y="120.15" width="6.5" height="6.5" fill="#006400"/><rect x="147.34" y="119.05" width="6.5" height="6.5" fill="#006400"/><rect x="154.50" y="118.35" width="6.5" height="6.5" fill="#006400"/><rect x="161.66" y="117.15" width="6.5" height="6.5" fill="#006400"/><rect x="168.82" y="115.95" width="6.5" height="6.5" fill="#006400"/><rect x="175.99" y="114.45" width="6.5" height="6.5" fill="#006400"/><rect x="183.15" y="112.75" width="6.5" height="6.5" fill="#006400"/><rect x="190.31" y="110.75" width="6.5" height="6.5" fill="#006400"/><rect x="197.48" y="108.55" width="6.5" height="6.5" fill="#006400"/><rect x="204.64" y="105.95" width="6.5" height="6.5" fill="#006400"/><rect x="211.80" y="103.25" width="6.5" height="6.5" fill="#006400"/><rect x="218.96" y="100.05" width="6.5" height="6.5" fill="#006400"/><rect x="226.12" y="96.65" width="6.5" height="6.5" fill="#006400"/><rect x="233.29" y="92.75" width="6.5" height="6.5" fill="#006400"/><rect x="240.45" y="88.75" width="6.5" height="6.5" fill="#006400"/><rect x="247.61" y="84.95" width="6.5" height="6.5" fill="#006400"/><rect x="254.77" y="81.35" width="6.5" height="6.5" fill="#006400"/><rect x="261.94" y="78.15" width="6.5" height="6.5" fill="#006400"/><rect x="269.10" y="75.35" width="6.5" height="6.5" fill="#006400"/><rect x="276.26" y="72.85" width="6.5" height="6.5" fill="#006400"/><rect x="283.43" y="70.62" width="6.5" height="6.5" fill="#006400"/><rect x="290.59" y="68.97" width="6.5" height="6.5" fill="#006400"/><rect x="297.75" y="67.22" width="6.5" height="6.5" fill="#006400"/><rect x="304.91" y="65.61" width="6.5" height="6.5" fill="#006400"/><rect x="312.07" y="64.05" width="6.5" height="6.5" fill="#006400"/><rect x="319.24" y="62.54" width="6.5" height="6.5" fill="#006400"/><rect x="326.40" y="61.25" width="6.5" height="6.5" fill="#006400"/><rect x="333.56" y="60.16" width="6.5" height="6.5" fill="#006400"/><rect x="340.73" y="59.04" width="6.5" height="6.5" fill="#006400"/><rect x="347.89" y="58.03" width="6.5" height="6.5" fill="#006400"/><rect x="355.05" y="56.95" width="6.5" height="6.5" fill="#006400"/><path d="M73.50 104.50V172.50M71.50 104.50H75.50M71.50 172.50H75.50M80.50 103.50V161.50M78.50 103.50H82.50M78.50 161.50H82.50M87.50 103.50V154.50M85.50 103.50H89.50M85.50 154.50H89.50M94.50 103.50V148.50M92.50 103.50H96.50M92.50 148.50H96.50M101.50 102.50V143.50M99.50 102.50H103.50M99.50 143.50H103.50M108.50 101.50V138.50M106.50 101.50H110.50M106.50 138.50H110.50M115.50 101.50V134.50M113.50 101.50H117.50M113.50 134.50H117.50M123.50 100.50V131.50M121.50 100.50H125.50M121.50 131.50H125.50M130.50 99.50V128.50M128.50 99.50H132.50M128.50 128.50H132.50M137.50 99.50V125.50M135.50 99.50H139.50M135.50 125.50H139.50M144.50 98.50V123.50M142.50 98.50H146.50M142.50 123.50H146.50M150.50 97.50V121.50M148.50 97.50H152.50M148.50 121.50H152.50M157.50 97.50V119.50M155.50 97.50H159.50M155.50 119.50H159.50M165.50 96.50V118.50M163.50 96.50H167.50M163.50 118.50H167.50M172.50 96.50V116.50M170.50 96.50H174.50M170.50 116.50H174.50M179.50 95.50V114.50M177.50 95.50H181.50M177.50 114.50H181.50M186.50 94.50V112.50M184.50 94.50H188.50M184.50 112.50H188.50M193.50 93.50V110.50M191.50 93.50H195.50M191.50 110.50H195.50M200.50 92.50V108.50M198.50 92.50H202.50M198.50 108.50H202.50M207.50 91.50V105.50M205.50 91.50H209.50M205.50 105.50H209.50M215.50 90.50V103.50M213.50 90.50H217.50M213.50 103.50H217.50M222.50 88.50V100.50M220.50 88.50H224.50M220.50 100.50H224.50M229.50 86.50V97.50M227.50 86.50H231.50M227.50 97.50H231.50M236.50 83.50V93.50M234.50 83.50H238.50M234.50 93.50H238.50M243.50 81.50V90.50M241.50 81.50H245.50M241.50 90.50H245.50M250.50 78.50V86.50M248.50 78.50H252.50M248.50 86.50H252.50M258.50 75.50V83.50M256.50 75.50H260.50M256.50 83.50H260.50M265.50 73.50V80.50M263.50 73.50H267.50M263.50 80.50H267.50M272.50 71.50V78.50M270.50 71.50H274.50M270.50 78.50H274.50M279.50 69.50V76.50M277.50 69.50H281.50M277.50 76.50H281.50M288.50 68.50V74.50M286.50 68.50H290.50M286.50 74.50H290.50M295.50 66.50V73.50M293.50 66.50H297.50M293.50 73.50H297.50M302.50 65.50V71.50M300.50 65.50H304.50M300.50 71.50H304.50M309.50 63.50V69.50M307.50 63.50H311.50M307.50 69.50H311.50M316.50 61.50V68.50M314.50 61.50H318.50M314.50 68.50H318.50M323.50 60.50V66.50M321.50 60.50H325.50M321.50 66.50H325.50M331.50 59.50V65.50M329.50 59.50H333.50M329.50 65.50H333.50M338.50 58.50V64.50M336.50 58.50H340.50M336.50 64.50H340.50M345.50 57.50V63.50M343.50 57.50H347.50M343.50 63.50H347.50M352.50 56.50V62.50M350.50 56.50H354.50M350.50 62.50H354.50" stroke="#ff0000" stroke-width="0.9" stroke-opacity="0.6" fill="none"/><polyline points="71.80,117.00 78.96,116.20 86.12,115.40 93.29,114.50 100.45,113.50 107.61,112.40 114.78,111.30 121.94,110.40 129.10,109.30 136.26,108.20 143.43,107.10 150.59,106.30 157.75,105.50 164.91,104.60 172.07,103.70 179.24,102.80 186.40,101.70 193.56,100.50 200.73,99.10 207.89,97.40 215.05,95.50 222.21,93.30 229.38,90.90 236.54,88.20 243.70,85.30 250.86,82.00 258.02,79.00 265.19,76.50 272.35,74.30 279.51,72.50 286.68,71.13 293.84,69.57 301.00,67.90 308.16,66.30 315.32,64.74 322.49,63.33 329.65,62.10 336.81,60.91 343.98,59.91 351.14,59.01 358.30,58.03" fill="none" stroke="#ff0000" stroke-width="1.2" stroke-dasharray="1.7 2.0"/><path d="M71.80 113.30L75.00 119.20L68.60 119.20Z" fill="#ff0000"/><path d="M78.96 112.50L82.16 118.40L75.76 118.40Z" fill="#ff0000"/><path d="M86.12 111.70L89.33 117.60L82.92 117.60Z" fill="#ff0000"/><path d="M93.29 110.80L96.49 116.70L90.09 116.70Z" fill="#ff0000"/><path d="M100.45 109.80L103.65 115.70L97.25 115.70Z" fill="#ff0000"/><path d="M107.61 108.70L110.81 114.60L104.41 114.60Z" fill="#ff0000"/><path d="M114.78 107.60L117.98 113.50L111.58 113.50Z" fill="#ff0000"/><path d="M121.94 106.70L125.14 112.60L118.74 112.60Z" fill="#ff0000"/><path d="M129.10 105.60L132.30 111.50L125.90 111.50Z" fill="#ff0000"/><path d="M136.26 104.50L139.46 110.40L133.06 110.40Z" fill="#ff0000"/><path d="M143.43 103.40L146.62 109.30L140.23 109.30Z" fill="#ff0000"/><path d="M150.59 102.60L153.79 108.50L147.39 108.50Z" fill="#ff0000"/><path d="M157.75 101.80L160.95 107.70L154.55 107.70Z" fill="#ff0000"/><path d="M164.91 100.90L168.11 106.80L161.71 106.80Z" fill="#ff0000"/><path d="M172.07 100.00L175.27 105.90L168.88 105.90Z" fill="#ff0000"/><path d="M179.24 99.10L182.44 105.00L176.04 105.00Z" fill="#ff0000"/><path d="M186.40 98.00L189.60 103.90L183.20 103.90Z" fill="#ff0000"/><path d="M193.56 96.80L196.76 102.70L190.36 102.70Z" fill="#ff0000"/><path d="M200.73 95.40L203.93 101.30L197.53 101.30Z" fill="#ff0000"/><path d="M207.89 93.70L211.09 99.60L204.69 99.60Z" fill="#ff0000"/><path d="M215.05 91.80L218.25 97.70L211.85 97.70Z" fill="#ff0000"/><path d="M222.21 89.60L225.41 95.50L219.01 95.50Z" fill="#ff0000"/><path d="M229.38 87.20L232.57 93.10L226.18 93.10Z" fill="#ff0000"/><path d="M236.54 84.50L239.74 90.40L233.34 90.40Z" fill="#ff0000"/><path d="M243.70 81.60L246.90 87.50L240.50 87.50Z" fill="#ff0000"/><path d="M250.86 78.30L254.06 84.20L247.66 84.20Z" fill="#ff0000"/><path d="M258.02 75.30L261.22 81.20L254.82 81.20Z" fill="#ff0000"/><path d="M265.19 72.80L268.39 78.70L261.99 78.70Z" fill="#ff0000"/><path d="M272.35 70.60L275.55 76.50L269.15 76.50Z" fill="#ff0000"/><path d="M279.51 68.80L282.71 74.70L276.31 74.70Z" fill="#ff0000"/><path d="M286.68 67.43L289.88 73.33L283.48 73.33Z" fill="#ff0000"/><path d="M293.84 65.87L297.04 71.77L290.64 71.77Z" fill="#ff0000"/><path d="M301.00 64.20L304.20 70.10L297.80 70.10Z" fill="#ff0000"/><path d="M308.16 62.60L311.36 68.50L304.96 68.50Z" fill="#ff0000"/><path d="M315.32 61.04L318.52 66.94L312.12 66.94Z" fill="#ff0000"/><path d="M322.49 59.63L325.69 65.53L319.29 65.53Z" fill="#ff0000"/><path d="M329.65 58.40L332.85 64.30L326.45 64.30Z" fill="#ff0000"/><path d="M336.81 57.21L340.01 63.11L333.61 63.11Z" fill="#ff0000"/><path d="M343.98 56.21L347.18 62.11L340.78 62.11Z" fill="#ff0000"/><path d="M351.14 55.31L354.34 61.21L347.94 61.21Z" fill="#ff0000"/><path d="M358.30 54.33L361.50 60.23L355.10 60.23Z" fill="#ff0000"/><path d="M71.50 99.50V145.50M69.50 99.50H73.50M69.50 145.50H73.50M78.50 99.50V143.50M76.50 99.50H80.50M76.50 143.50H80.50M86.50 98.50V138.50M84.50 98.50H88.50M84.50 138.50H88.50M93.50 98.50V134.50M91.50 98.50H95.50M91.50 134.50H95.50M100.50 97.50V130.50M98.50 97.50H102.50M98.50 130.50H102.50M107.50 96.50V127.50M105.50 96.50H109.50M105.50 127.50H109.50M114.50 96.50V124.50M112.50 96.50H116.50M112.50 124.50H116.50M121.50 95.50V121.50M119.50 95.50H123.50M119.50 121.50H123.50M129.50 94.50V119.50M127.50 94.50H131.50M127.50 119.50H131.50M136.50 94.50V116.50M134.50 94.50H138.50M134.50 116.50H138.50M143.50 93.50V114.50M141.50 93.50H145.50M141.50 114.50H145.50M150.50 92.50V113.50M148.50 92.50H152.50M148.50 113.50H152.50M157.50 92.50V111.50M155.50 92.50H159.50M155.50 111.50H159.50M164.50 91.50V109.50M162.50 91.50H166.50M162.50 109.50H166.50M172.50 90.50V107.50M170.50 90.50H174.50M170.50 107.50H174.50M179.50 89.50V106.50M177.50 89.50H181.50M177.50 106.50H181.50M186.50 88.50V104.50M184.50 88.50H188.50M184.50 104.50H188.50M193.50 87.50V102.50M191.50 87.50H195.50M191.50 102.50H195.50M200.50 86.50V100.50M198.50 86.50H202.50M198.50 100.50H202.50M207.50 85.50V97.50M205.50 85.50H209.50M205.50 97.50H209.50M215.50 84.50V95.50M213.50 84.50H217.50M213.50 95.50H217.50M222.50 82.50V93.50M220.50 82.50H224.50M220.50 93.50H224.50M229.50 80.50V90.50M227.50 80.50H231.50M227.50 90.50H231.50M236.50 78.50V87.50M234.50 78.50H238.50M234.50 87.50H238.50M243.50 76.50V84.50M241.50 76.50H245.50M241.50 84.50H245.50M250.50 73.50V81.50M248.50 73.50H252.50M248.50 81.50H252.50M258.50 71.50V78.50M256.50 71.50H260.50M256.50 78.50H260.50M265.50 69.50V76.50M263.50 69.50H267.50M263.50 76.50H267.50M272.50 67.50V74.50M270.50 67.50H274.50M270.50 74.50H274.50M279.50 65.50V72.50M277.50 65.50H281.50M277.50 72.50H281.50M286.50 63.50V70.50M284.50 63.50H288.50M284.50 70.50H288.50M293.50 62.50V68.50M291.50 62.50H295.50M291.50 68.50H295.50M301.50 60.50V66.50M299.50 60.50H303.50M299.50 66.50H303.50M308.50 59.50V65.50M306.50 59.50H310.50M306.50 65.50H310.50M315.50 57.50V64.50M313.50 57.50H317.50M313.50 64.50H317.50M322.50 56.50V62.50M320.50 56.50H324.50M320.50 62.50H324.50M329.50 55.50V61.50M327.50 55.50H331.50M327.50 61.50H331.50M336.50 53.50V60.50M334.50 53.50H338.50M334.50 60.50H338.50M343.50 52.50V58.50M341.50 52.50H345.50M341.50 58.50H345.50M351.50 51.50V57.50M349.50 51.50H353.50M349.50 57.50H353.50M358.50 50.50V56.50M356.50 50.50H360.50M356.50 56.50H360.50" stroke="#40c8c8" stroke-width="0.9" stroke-opacity="0.6" fill="none"/><polyline points="71.80,111.20 78.96,110.70 86.12,109.70 93.29,108.70 100.45,107.70 107.61,106.70 114.78,105.60 121.94,104.50 129.10,103.40 136.26,102.30 143.43,101.20 150.59,100.40 157.75,99.40 164.91,98.40 172.07,97.30 179.24,96.20 186.40,95.00 193.56,93.70 200.73,92.20 207.89,90.60 215.05,89.00 222.21,87.20 229.38,85.20 236.54,82.60 243.70,79.90 250.86,77.30 258.02,74.80 265.19,72.60 272.35,70.50 279.51,68.60 286.68,66.89 293.84,65.19 301.00,63.53 308.16,62.10 315.32,60.67 322.49,59.28 329.65,57.92 336.81,56.74 343.98,55.61 351.14,54.50 358.30,53.40" fill="none" stroke="#40c8c8" stroke-width="1.1" stroke-dasharray="1.7 0.8" stroke-opacity="0.8"/><path d="M71.80 114.70L75.05 109.35L68.55 109.35Z" fill="#40c8c8"/><path d="M78.96 114.20L82.21 108.85L75.71 108.85Z" fill="#40c8c8"/><path d="M86.12 113.20L89.38 107.85L82.88 107.85Z" fill="#40c8c8"/><path d="M93.29 112.20L96.54 106.85L90.04 106.85Z" fill="#40c8c8"/><path d="M100.45 111.20L103.70 105.85L97.20 105.85Z" fill="#40c8c8"/><path d="M107.61 110.20L110.86 104.85L104.36 104.85Z" fill="#40c8c8"/><path d="M114.78 109.10L118.03 103.75L111.53 103.75Z" fill="#40c8c8"/><path d="M121.94 108.00L125.19 102.65L118.69 102.65Z" fill="#40c8c8"/><path d="M129.10 106.90L132.35 101.55L125.85 101.55Z" fill="#40c8c8"/><path d="M136.26 105.80L139.51 100.45L133.01 100.45Z" fill="#40c8c8"/><path d="M143.43 104.70L146.68 99.35L140.18 99.35Z" fill="#40c8c8"/><path d="M150.59 103.90L153.84 98.55L147.34 98.55Z" fill="#40c8c8"/><path d="M157.75 102.90L161.00 97.55L154.50 97.55Z" fill="#40c8c8"/><path d="M164.91 101.90L168.16 96.55L161.66 96.55Z" fill="#40c8c8"/><path d="M172.07 100.80L175.32 95.45L168.82 95.45Z" fill="#40c8c8"/><path d="M179.24 99.70L182.49 94.35L175.99 94.35Z" fill="#40c8c8"/><path d="M186.40 98.50L189.65 93.15L183.15 93.15Z" fill="#40c8c8"/><path d="M193.56 97.20L196.81 91.85L190.31 91.85Z" fill="#40c8c8"/><path d="M200.73 95.70L203.98 90.35L197.48 90.35Z" fill="#40c8c8"/><path d="M207.89 94.10L211.14 88.75L204.64 88.75Z" fill="#40c8c8"/><path d="M215.05 92.50L218.30 87.15L211.80 87.15Z" fill="#40c8c8"/><path d="M222.21 90.70L225.46 85.35L218.96 85.35Z" fill="#40c8c8"/><path d="M229.38 88.70L232.62 83.35L226.12 83.35Z" fill="#40c8c8"/><path d="M236.54 86.10L239.79 80.75L233.29 80.75Z" fill="#40c8c8"/><path d="M243.70 83.40L246.95 78.05L240.45 78.05Z" fill="#40c8c8"/><path d="M250.86 80.80L254.11 75.45L247.61 75.45Z" fill="#40c8c8"/><path d="M258.02 78.30L261.27 72.95L254.77 72.95Z" fill="#40c8c8"/><path d="M265.19 76.10L268.44 70.75L261.94 70.75Z" fill="#40c8c8"/><path d="M272.35 74.00L275.60 68.65L269.10 68.65Z" fill="#40c8c8"/><path d="M279.51 72.10L282.76 66.75L276.26 66.75Z" fill="#40c8c8"/><path d="M286.68 70.39L289.93 65.04L283.43 65.04Z" fill="#40c8c8"/><path d="M293.84 68.69L297.09 63.34L290.59 63.34Z" fill="#40c8c8"/><path d="M301.00 67.03L304.25 61.68L297.75 61.68Z" fill="#40c8c8"/><path d="M308.16 65.60L311.41 60.25L304.91 60.25Z" fill="#40c8c8"/><path d="M315.32 64.17L318.57 58.82L312.07 58.82Z" fill="#40c8c8"/><path d="M322.49 62.78L325.74 57.43L319.24 57.43Z" fill="#40c8c8"/><path d="M329.65 61.42L332.90 56.07L326.40 56.07Z" fill="#40c8c8"/><path d="M336.81 60.24L340.06 54.89L333.56 54.89Z" fill="#40c8c8"/><path d="M343.98 59.11L347.23 53.76L340.73 53.76Z" fill="#40c8c8"/><path d="M351.14 58.00L354.39 52.65L347.89 52.65Z" fill="#40c8c8"/><path d="M358.30 56.90L361.55 51.55L355.05 51.55Z" fill="#40c8c8"/></g><path d="M71.80 289.5v-4.5M71.80 27.5v4.5M93.36 289.5v-2.2M93.36 27.5v2.2M105.97 289.5v-2.2M105.97 27.5v2.2M114.92 289.5v-2.2M114.92 27.5v2.2M121.86 289.5v-2.2M121.86 27.5v2.2M127.54 289.5v-2.2M127.54 27.5v2.2M132.33 289.5v-2.2M132.33 27.5v2.2M136.48 289.5v-2.2M136.48 27.5v2.2M140.15 289.5v-2.2M140.15 27.5v2.2M143.43 289.5v-4.5M143.43 27.5v4.5M164.99 289.5v-2.2M164.99 27.5v2.2M177.60 289.5v-2.2M177.60 27.5v2.2M186.55 289.5v-2.2M186.55 27.5v2.2M193.49 289.5v-2.2M193.49 27.5v2.2M199.16 289.5v-2.2M199.16 27.5v2.2M203.96 289.5v-2.2M203.96 27.5v2.2M208.11 289.5v-2.2M208.11 27.5v2.2M211.77 289.5v-2.2M211.77 27.5v2.2M215.05 289.5v-4.5M215.05 27.5v4.5M236.61 289.5v-2.2M236.61 27.5v2.2M249.22 289.5v-2.2M249.22 27.5v2.2M258.17 289.5v-2.2M258.17 27.5v2.2M265.11 289.5v-2.2M265.11 27.5v2.2M270.79 289.5v-2.2M270.79 27.5v2.2M275.58 289.5v-2.2M275.58 27.5v2.2M279.73 289.5v-2.2M279.73 27.5v2.2M283.40 289.5v-2.2M283.40 27.5v2.2M286.68 289.5v-4.5M286.68 27.5v4.5M308.24 289.5v-2.2M308.24 27.5v2.2M320.85 289.5v-2.2M320.85 27.5v2.2M329.80 289.5v-2.2M329.80 27.5v2.2M336.74 289.5v-2.2M336.74 27.5v2.2M342.41 289.5v-2.2M342.41 27.5v2.2M347.21 289.5v-2.2M347.21 27.5v2.2M351.36 289.5v-2.2M351.36 27.5v2.2M355.02 289.5v-2.2M355.02 27.5v2.2M358.30 289.5v-4.5M358.30 27.5v4.5M71.8 27.50h4.5M358.3 27.50h-4.5M71.8 58.02h2.2M358.3 58.02h-2.2M71.8 40.64h2.2M358.3 40.64h-2.2M71.8 31.73h2.2M358.3 31.73h-2.2M71.8 71.17h4.5M358.3 71.17h-4.5M71.8 101.69h2.2M358.3 101.69h-2.2M71.8 84.31h2.2M358.3 84.31h-2.2M71.8 75.40h2.2M358.3 75.40h-2.2M71.8 114.83h4.5M358.3 114.83h-4.5M71.8 145.36h2.2M358.3 145.36h-2.2M71.8 127.98h2.2M358.3 127.98h-2.2M71.8 119.07h2.2M358.3 119.07h-2.2M71.8 158.50h4.5M358.3 158.50h-4.5M71.8 189.02h2.2M358.3 189.02h-2.2M71.8 171.64h2.2M358.3 171.64h-2.2M71.8 162.73h2.2M358.3 162.73h-2.2M71.8 202.17h4.5M358.3 202.17h-4.5M71.8 232.69h2.2M358.3 232.69h-2.2M71.8 215.31h2.2M358.3 215.31h-2.2M71.8 206.40h2.2M358.3 206.40h-2.2M71.8 245.83h4.5M358.3 245.83h-4.5M71.8 276.36h2.2M358.3 276.36h-2.2M71.8 258.98h2.2M358.3 258.98h-2.2M71.8 250.07h2.2M358.3 250.07h-2.2M71.8 289.50h4.5M358.3 289.50h-4.5" stroke="#000" stroke-width="0.65" fill="none"/><rect x="71.8" y="27.5" width="286.5" height="262.0" fill="none" stroke="#1a1a1a" stroke-width="1.05"/><rect x="236.4" y="132.5" width="101.99999999999997" height="134.5" fill="#fff" stroke="none"/><g clip-path="url(#ci)"><polyline points="236.40,265.30 246.60,256.00 256.80,246.90 267.00,238.10 277.20,229.90 287.40,222.40 297.60,215.50 307.80,209.50 318.00,205.50 328.20,202.10 338.40,199.70" fill="none" stroke="#4b0082" stroke-width="1.2"/><circle cx="236.40" cy="265.30" r="3.4" fill="#4b0082"/><circle cx="246.60" cy="256.00" r="3.4" fill="#4b0082"/><circle cx="256.80" cy="246.90" r="3.4" fill="#4b0082"/><circle cx="267.00" cy="238.10" r="3.4" fill="#4b0082"/><circle cx="277.20" cy="229.90" r="3.4" fill="#4b0082"/><circle cx="287.40" cy="222.40" r="3.4" fill="#4b0082"/><circle cx="297.60" cy="215.50" r="3.4" fill="#4b0082"/><circle cx="307.80" cy="209.50" r="3.4" fill="#4b0082"/><circle cx="318.00" cy="205.50" r="3.4" fill="#4b0082"/><circle cx="328.20" cy="202.10" r="3.4" fill="#4b0082"/><circle cx="338.40" cy="199.70" r="3.4" fill="#4b0082"/><path d="M244.50 234.50V255.50M242.50 234.50H246.50M242.50 255.50H246.50M254.50 225.50V246.50M252.50 225.50H256.50M252.50 246.50H256.50M265.50 217.50V237.50M263.50 217.50H267.50M263.50 237.50H267.50M275.50 209.50V229.50M273.50 209.50H277.50M273.50 229.50H277.50M285.50 202.50V221.50M283.50 202.50H287.50M283.50 221.50H287.50M295.50 195.50V215.50M293.50 195.50H297.50M293.50 215.50H297.50M305.50 190.50V209.50M303.50 190.50H307.50M303.50 209.50H307.50M316.50 184.50V203.50M314.50 184.50H318.50M314.50 203.50H318.50M326.50 179.50V198.50M324.50 179.50H328.50M324.50 198.50H328.50M336.50 174.50V192.50M334.50 174.50H338.50M334.50 192.50H338.50" stroke="#006400" stroke-width="0.9" stroke-opacity="0.6" fill="none"/><polyline points="236.40,252.90 246.60,244.50 256.80,235.50 267.00,227.30 277.20,219.30 287.40,211.60 297.60,205.00 307.80,199.40 318.00,193.70 328.20,188.50 338.40,183.00" fill="none" stroke="#006400" stroke-width="1.3" stroke-dasharray="2.3 1.1"/><rect x="233.15" y="249.65" width="6.5" height="6.5" fill="#006400"/><rect x="243.35" y="241.25" width="6.5" height="6.5" fill="#006400"/><rect x="253.55" y="232.25" width="6.5" height="6.5" fill="#006400"/><rect x="263.75" y="224.05" width="6.5" height="6.5" fill="#006400"/><rect x="273.95" y="216.05" width="6.5" height="6.5" fill="#006400"/><rect x="284.15" y="208.35" width="6.5" height="6.5" fill="#006400"/><rect x="294.35" y="201.75" width="6.5" height="6.5" fill="#006400"/><rect x="304.55" y="196.15" width="6.5" height="6.5" fill="#006400"/><rect x="314.75" y="190.45" width="6.5" height="6.5" fill="#006400"/><rect x="324.95" y="185.25" width="6.5" height="6.5" fill="#006400"/><rect x="335.15" y="179.75" width="6.5" height="6.5" fill="#006400"/><path d="M238.50 223.50V256.50M236.50 223.50H240.50M236.50 256.50H240.50M249.50 215.50V248.50M247.50 215.50H251.50M247.50 248.50H251.50M259.50 207.50V239.50M257.50 207.50H261.50M257.50 239.50H261.50M269.50 199.50V231.50M267.50 199.50H271.50M267.50 231.50H271.50M279.50 191.50V223.50M277.50 191.50H281.50M277.50 223.50H281.50M289.50 184.50V215.50M287.50 184.50H291.50M287.50 215.50H291.50M299.50 178.50V209.50M297.50 178.50H301.50M297.50 209.50H301.50M310.50 172.50V203.50M308.50 172.50H312.50M308.50 203.50H312.50M320.50 167.50V197.50M318.50 167.50H322.50M318.50 197.50H322.50M330.50 162.50V193.50M328.50 162.50H332.50M328.50 193.50H332.50" stroke="#ff0000" stroke-width="0.9" stroke-opacity="0.6" fill="none"/><polyline points="237.00,238.90 247.20,230.90 257.40,222.40 267.60,214.20 277.80,206.20 288.00,199.00 298.20,192.70 308.40,186.60 318.60,181.50 328.80,176.90 339.00,171.90" fill="none" stroke="#ff0000" stroke-width="1.2" stroke-dasharray="1.7 2.0"/><path d="M237.00 235.20L240.20 241.10L233.80 241.10Z" fill="#ff0000"/><path d="M247.20 227.20L250.40 233.10L244.00 233.10Z" fill="#ff0000"/><path d="M257.40 218.70L260.60 224.60L254.20 224.60Z" fill="#ff0000"/><path d="M267.60 210.50L270.80 216.40L264.40 216.40Z" fill="#ff0000"/><path d="M277.80 202.50L281.00 208.40L274.60 208.40Z" fill="#ff0000"/><path d="M288.00 195.30L291.20 201.20L284.80 201.20Z" fill="#ff0000"/><path d="M298.20 189.00L301.40 194.90L295.00 194.90Z" fill="#ff0000"/><path d="M308.40 182.90L311.60 188.80L305.20 188.80Z" fill="#ff0000"/><path d="M318.60 177.80L321.80 183.70L315.40 183.70Z" fill="#ff0000"/><path d="M328.80 173.20L332.00 179.10L325.60 179.10Z" fill="#ff0000"/><path d="M339.00 168.20L342.20 174.10L335.80 174.10Z" fill="#ff0000"/><path d="M236.50 201.50V235.50M234.50 201.50H238.50M234.50 235.50H238.50M246.50 193.50V226.50M244.50 193.50H248.50M244.50 226.50H248.50M256.50 185.50V217.50M254.50 185.50H258.50M254.50 217.50H258.50M267.50 177.50V210.50M265.50 177.50H269.50M265.50 210.50H269.50M277.50 170.50V202.50M275.50 170.50H279.50M275.50 202.50H279.50M287.50 163.50V195.50M285.50 163.50H289.50M285.50 195.50H289.50M297.50 156.50V188.50M295.50 156.50H299.50M295.50 188.50H299.50M307.50 150.50V182.50M305.50 150.50H309.50M305.50 182.50H309.50M318.50 145.50V176.50M316.50 145.50H320.50M316.50 176.50H320.50M328.50 139.50V170.50M326.50 139.50H330.50M326.50 170.50H330.50M338.50 134.50V164.50M336.50 134.50H340.50M336.50 164.50H340.50" stroke="#40c8c8" stroke-width="0.9" stroke-opacity="0.6" fill="none"/><polyline points="236.40,217.20 246.60,208.50 256.80,200.00 267.00,192.70 277.20,185.40 287.40,178.30 297.60,171.30 307.80,165.30 318.00,159.50 328.20,153.80 338.40,148.20" fill="none" stroke="#40c8c8" stroke-width="1.1" stroke-dasharray="1.7 0.8" stroke-opacity="0.8"/><path d="M236.40 220.70L239.65 215.35L233.15 215.35Z" fill="#40c8c8"/><path d="M246.60 212.00L249.85 206.65L243.35 206.65Z" fill="#40c8c8"/><path d="M256.80 203.50L260.05 198.15L253.55 198.15Z" fill="#40c8c8"/><path d="M267.00 196.20L270.25 190.85L263.75 190.85Z" fill="#40c8c8"/><path d="M277.20 188.90L280.45 183.55L273.95 183.55Z" fill="#40c8c8"/><path d="M287.40 181.80L290.65 176.45L284.15 176.45Z" fill="#40c8c8"/><path d="M297.60 174.80L300.85 169.45L294.35 169.45Z" fill="#40c8c8"/><path d="M307.80 168.80L311.05 163.45L304.55 163.45Z" fill="#40c8c8"/><path d="M318.00 163.00L321.25 157.65L314.75 157.65Z" fill="#40c8c8"/><path d="M328.20 157.30L331.45 151.95L324.95 151.95Z" fill="#40c8c8"/><path d="M338.40 151.70L341.65 146.35L335.15 146.35Z" fill="#40c8c8"/></g><path d="M236.40 267.0v-4.5M236.40 132.5v4.5M267.11 267.0v-2.2M267.11 132.5v2.2M285.07 267.0v-2.2M285.07 132.5v2.2M297.81 267.0v-2.2M297.81 132.5v2.2M307.69 267.0v-2.2M307.69 132.5v2.2M315.77 267.0v-2.2M315.77 132.5v2.2M322.60 267.0v-2.2M322.60 132.5v2.2M328.52 267.0v-2.2M328.52 132.5v2.2M333.73 267.0v-2.2M333.73 132.5v2.2M338.40 267.0v-4.5M338.40 132.5v4.5" stroke="#000" stroke-width="0.85" fill="none"/><rect x="236.4" y="132.5" width="101.99999999999997" height="134.5" fill="none" stroke="#1a1a1a" stroke-width="1.05"/><g class="se" font-size="13"><text transform="translate(72.80 303.20) scale(1 1.08)" text-anchor="middle">0.001</text><text transform="translate(144.43 303.20) scale(1 1.08)" text-anchor="middle">0.01</text><text transform="translate(216.05 303.20) scale(1 1.08)" text-anchor="middle">0.1</text><text transform="translate(287.68 303.20) scale(1 1.08)" text-anchor="middle">1</text><text transform="translate(359.30 303.20) scale(1 1.08)" text-anchor="middle">10</text><text transform="translate(66.20 32.30) scale(1 1.08)" text-anchor="end">10</text><text transform="translate(66.20 75.97) scale(1 1.08)" text-anchor="end">1</text><text transform="translate(66.20 119.63) scale(1 1.08)" text-anchor="end">0.1</text><text transform="translate(66.20 163.30) scale(1 1.08)" text-anchor="end">0.01</text><text transform="translate(66.20 206.97) scale(1 1.08)" text-anchor="end">0.001</text><text transform="translate(66.20 250.63) scale(1 1.08)" text-anchor="end">0.0001</text><text transform="translate(66.20 294.30) scale(1 1.08)" text-anchor="end">1e-05</text><text transform="translate(237.30 281.20) scale(1 1.08)" text-anchor="middle">1</text><text transform="translate(339.30 281.20) scale(1 1.08)" text-anchor="middle">10</text></g><g font-family="Liberation Sans, sans-serif"><text x="26.2" y="33.1" font-size="16">(b)</text><text x="54.70" y="17.90" font-size="12.85">Absolute Deviation </text><text x="165.82" y="17.90" font-size="12.85">| </text><path d="M177.29 8.46L174.27 14.88L177.29 21.31" fill="none" stroke="#000" stroke-width="0.95" stroke-linejoin="miter"/><text x="177.17" y="17.90" font-size="12.85">G’(</text><text x="194.80" y="17.90" font-size="12.85">ω</text><text x="205.03" y="17.90" font-size="12.85">, m=0.064)</text><path d="M267.16 8.46L270.18 14.88L267.16 21.31" fill="none" stroke="#000" stroke-width="0.95" stroke-linejoin="miter"/><text x="270.56" y="17.90" font-size="12.85"> - </text><path d="M286.64 8.46L283.62 14.88L286.64 21.31" fill="none" stroke="#000" stroke-width="0.95" stroke-linejoin="miter"/><text x="287.02" y="17.90" font-size="12.85">G’(</text><text x="304.25" y="17.90" font-size="12.85">ω</text><text x="313.48" y="17.90" font-size="12.85">=0, m=0)</text><path d="M365.25 8.46L368.27 14.88L365.25 21.31" fill="none" stroke="#000" stroke-width="0.95" stroke-linejoin="miter"/><text x="369.05" y="17.90" font-size="12.85"> |</text><text x="190.35" y="315.50" font-size="12.85">ω [k/c l</text><text x="230.37" y="319.23" font-size="10.28">0</text><text x="236.08" y="315.50" font-size="12.85">]</text><g transform="translate(22.0 158.7) rotate(-90)"><text x="-106.10" y="0.00" font-size="12.85">| </text><path d="M-95.53 -9.44L-98.55 -3.02L-95.53 3.41" fill="none" stroke="#000" stroke-width="0.95" stroke-linejoin="miter"/><text x="-94.96" y="0.00" font-size="12.85"> G’(ω,m) </text><path d="M-41.46 -9.44L-38.44 -3.02L-41.46 3.41" fill="none" stroke="#000" stroke-width="0.95" stroke-linejoin="miter"/><text x="-37.86" y="0.00" font-size="12.85"> - </text><path d="M-22.78 -9.44L-25.80 -3.02L-22.78 3.41" fill="none" stroke="#000" stroke-width="0.95" stroke-linejoin="miter"/><text x="-22.20" y="0.00" font-size="12.85"> G’(ω=0,m=0) </text><path d="M60.60 -9.44L63.62 -3.02L60.60 3.41" fill="none" stroke="#000" stroke-width="0.95" stroke-linejoin="miter"/><text x="64.20" y="0.00" font-size="12.85"> | [k/l</text><text x="91.10" y="3.73" font-size="10.28">0</text><text x="96.82" y="-5.91" font-size="10.28">2</text><text x="102.53" y="0.00" font-size="12.85">]</text></g><path d="M370.26 32.56L367.24 38.98L370.26 45.41" fill="none" stroke="#000" stroke-width="0.95" stroke-linejoin="miter"/><text x="370.84" y="42.00" font-size="12.85">G’</text><path d="M384.33 32.56L387.35 38.98L384.33 45.41" fill="none" stroke="#000" stroke-width="0.95" stroke-linejoin="miter"/><text x="387.93" y="42.00" font-size="12.85">(m=0)</text><path d="M370.26 52.36L367.24 58.78L370.26 65.21" fill="none" stroke="#000" stroke-width="0.95" stroke-linejoin="miter"/><text x="370.84" y="61.80" font-size="12.85">G’</text><text x="383.69" y="65.53" font-size="10.28">xy</text><path d="M395.01 52.36L398.03 58.78L395.01 65.21" fill="none" stroke="#000" stroke-width="0.95" stroke-linejoin="miter"/><text x="398.91" y="61.80" font-size="12.85">(m&gt;0)</text><path d="M370.26 72.66L367.24 79.08L370.26 85.51" fill="none" stroke="#000" stroke-width="0.95" stroke-linejoin="miter"/><text x="370.84" y="82.10" font-size="12.85">G’</text><text x="383.69" y="85.83" font-size="10.28">xz</text><path d="M395.01 72.66L398.03 79.08L395.01 85.51" fill="none" stroke="#000" stroke-width="0.95" stroke-linejoin="miter"/><text x="398.91" y="82.10" font-size="12.85">(m&gt;0)</text><path d="M370.26 93.16L367.24 99.58L370.26 106.01" fill="none" stroke="#000" stroke-width="0.95" stroke-linejoin="miter"/><text x="370.84" y="102.60" font-size="12.85">G’</text><text x="383.69" y="106.33" font-size="10.28">zy</text><path d="M395.01 93.16L398.03 99.58L395.01 106.01" fill="none" stroke="#000" stroke-width="0.95" stroke-linejoin="miter"/><text x="398.91" y="102.60" font-size="12.85">(m&gt;0)</text></g><path d="M432 37.6H458" stroke="#4b0082" stroke-width="1.2" fill="none"/><circle cx="445.00" cy="37.60" r="3.4" fill="#4b0082"/><path d="M432 58.1H458" stroke="#006400" stroke-width="1.3" stroke-dasharray="2.3 1.1" fill="none"/><rect x="441.75" y="54.85" width="6.5" height="6.5" fill="#006400"/><path d="M432 78.4H458" stroke="#ff0000" stroke-width="1.2" stroke-dasharray="1.7 2.0" fill="none"/><path d="M445.00 74.70L448.20 80.60L441.80 80.60Z" fill="#ff0000"/><path d="M432 98.9H458" stroke="#40c8c8" stroke-width="1.1" stroke-dasharray="1.7 0.8" stroke-opacity="0.8" fill="none"/><path d="M445.00 102.40L448.25 97.05L441.75 97.05Z" fill="#40c8c8"/></g>
</svg>
</body></html>
